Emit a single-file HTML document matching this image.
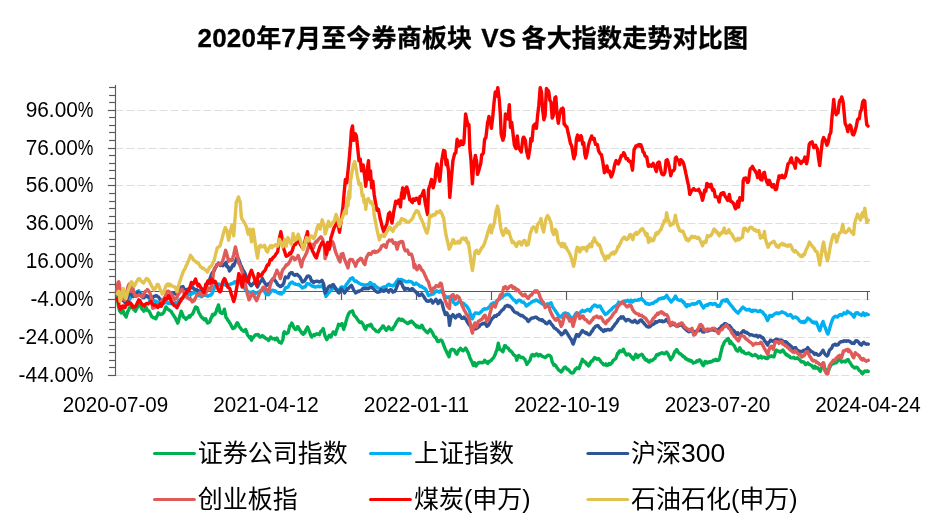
<!DOCTYPE html>
<html lang="zh-CN"><head><meta charset="utf-8"><title>2020年7月至今券商板块 VS 各大指数走势对比图</title>
<style>html,body{margin:0;padding:0;background:#fff}body{width:945px;height:531px;overflow:hidden}svg{display:block;will-change:transform}text{font-family:"Liberation Sans","Noto Sans CJK SC",sans-serif;fill:#000}.t{font-weight:bold;font-size:25px;stroke:#000;stroke-width:.3px}.t .l{font-size:26px}.ax{font-size:21.3px}.lg{font-size:25px}.lg .l{font-size:26.5px}.ln{fill:none;stroke-linejoin:round;stroke-linecap:round;stroke-width:3.4}</style></head><body>
<svg width="945" height="531" viewBox="0 0 945 531">
<rect width="945" height="531" fill="#fff"/>
<g stroke="#dedede" stroke-width="1" stroke-dasharray="8 3" fill="none">
<line x1="115.4" y1="110.5" x2="870.0" y2="110.5"/>
<line x1="115.4" y1="148.5" x2="870.0" y2="148.5"/>
<line x1="115.4" y1="185.5" x2="870.0" y2="185.5"/>
<line x1="115.4" y1="223.5" x2="870.0" y2="223.5"/>
<line x1="115.4" y1="261.5" x2="870.0" y2="261.5"/>
<line x1="115.4" y1="299.5" x2="870.0" y2="299.5"/>
<line x1="115.4" y1="337.5" x2="870.0" y2="337.5"/>
<line x1="115.4" y1="375.5" x2="870.0" y2="375.5"/>
</g>
<g stroke="#595959" stroke-width="1.15" fill="none">
<line x1="115.5" y1="85.1" x2="115.5" y2="376.1"/>
<line x1="107.9" y1="375.5" x2="115.5" y2="375.5"/>
<line x1="109.1" y1="367.5" x2="115.5" y2="367.5"/>
<line x1="109.1" y1="360.5" x2="115.5" y2="360.5"/>
<line x1="109.1" y1="352.5" x2="115.5" y2="352.5"/>
<line x1="109.1" y1="345.5" x2="115.5" y2="345.5"/>
<line x1="107.9" y1="337.5" x2="115.5" y2="337.5"/>
<line x1="109.1" y1="329.5" x2="115.5" y2="329.5"/>
<line x1="109.1" y1="322.5" x2="115.5" y2="322.5"/>
<line x1="109.1" y1="314.5" x2="115.5" y2="314.5"/>
<line x1="109.1" y1="307.5" x2="115.5" y2="307.5"/>
<line x1="107.9" y1="299.5" x2="115.5" y2="299.5"/>
<line x1="109.1" y1="292.5" x2="115.5" y2="292.5"/>
<line x1="109.1" y1="284.5" x2="115.5" y2="284.5"/>
<line x1="109.1" y1="276.5" x2="115.5" y2="276.5"/>
<line x1="109.1" y1="269.5" x2="115.5" y2="269.5"/>
<line x1="107.9" y1="261.5" x2="115.5" y2="261.5"/>
<line x1="109.1" y1="254.5" x2="115.5" y2="254.5"/>
<line x1="109.1" y1="246.5" x2="115.5" y2="246.5"/>
<line x1="109.1" y1="239.5" x2="115.5" y2="239.5"/>
<line x1="109.1" y1="231.5" x2="115.5" y2="231.5"/>
<line x1="107.9" y1="223.5" x2="115.5" y2="223.5"/>
<line x1="109.1" y1="216.5" x2="115.5" y2="216.5"/>
<line x1="109.1" y1="208.5" x2="115.5" y2="208.5"/>
<line x1="109.1" y1="201.5" x2="115.5" y2="201.5"/>
<line x1="109.1" y1="193.5" x2="115.5" y2="193.5"/>
<line x1="107.9" y1="185.5" x2="115.5" y2="185.5"/>
<line x1="109.1" y1="178.5" x2="115.5" y2="178.5"/>
<line x1="109.1" y1="170.5" x2="115.5" y2="170.5"/>
<line x1="109.1" y1="163.5" x2="115.5" y2="163.5"/>
<line x1="109.1" y1="155.5" x2="115.5" y2="155.5"/>
<line x1="107.9" y1="148.5" x2="115.5" y2="148.5"/>
<line x1="109.1" y1="140.5" x2="115.5" y2="140.5"/>
<line x1="109.1" y1="132.5" x2="115.5" y2="132.5"/>
<line x1="109.1" y1="125.5" x2="115.5" y2="125.5"/>
<line x1="109.1" y1="117.5" x2="115.5" y2="117.5"/>
<line x1="107.9" y1="110.5" x2="115.5" y2="110.5"/>
<line x1="109.1" y1="102.5" x2="115.5" y2="102.5"/>
<line x1="109.1" y1="95.5" x2="115.5" y2="95.5"/>
<line x1="109.1" y1="87.5" x2="115.5" y2="87.5"/>
<line x1="115.5" y1="291.5" x2="870.0" y2="291.5"/>
<line x1="115.5" y1="291.5" x2="115.5" y2="299.9"/>
<line x1="190.5" y1="291.5" x2="190.5" y2="299.9"/>
<line x1="265.5" y1="291.5" x2="265.5" y2="299.9"/>
<line x1="341.5" y1="291.5" x2="341.5" y2="299.9"/>
<line x1="416.5" y1="291.5" x2="416.5" y2="299.9"/>
<line x1="491.5" y1="291.5" x2="491.5" y2="299.9"/>
<line x1="566.5" y1="291.5" x2="566.5" y2="299.9"/>
<line x1="641.5" y1="291.5" x2="641.5" y2="299.9"/>
<line x1="717.5" y1="291.5" x2="717.5" y2="299.9"/>
<line x1="792.5" y1="291.5" x2="792.5" y2="299.9"/>
<line x1="867.5" y1="291.5" x2="867.5" y2="299.9"/>
</g>
<polyline class="ln" stroke="#00B050" points="117.1,297.6 117.92,302.78 118.4,306.1 119.8,311.2 120.38,311.81 121.2,312.9 122.02,310.89 122.7,309.5 123.66,312.7 124.4,314.6 125.3,315.31 126.1,317.1 126.94,314.32 127.8,311.2 128.58,310.15 129.5,307.8 130.22,307.0 131.2,306.1 131.86,307.19 132.68,307.85 133.7,309.5 134.32,309.98 135.4,311.2 135.96,309.99 136.78,308.44 137.6,306.96 138.0,306.1 138.42,306.04 139.24,305.48 139.7,304.4 140.88,306.27 141.7,308.55 142.2,309.5 143.34,310.37 143.9,311.2 144.98,309.53 145.8,308.23 146.4,307.8 147.44,310.54 148.26,310.63 149.0,311.2 149.9,312.7 150.72,314.51 151.5,316.3 152.36,316.89 153.18,317.61 154.1,318.0 154.82,317.79 155.8,318.8 156.46,317.02 157.28,315.82 158.3,312.9 158.92,313.69 159.74,313.99 160.8,314.6 161.38,314.06 162.2,314.17 163.4,312.9 163.84,312.25 164.66,310.19 165.48,308.05 165.9,306.9 167.12,308.39 167.94,309.24 168.5,309.5 169.58,310.33 170.4,311.12 171.0,311.2 172.04,313.07 172.86,314.34 173.6,315.4 174.5,316.76 175.32,317.93 176.1,319.7 176.96,321.55 177.8,323.1 178.6,320.63 179.5,317.1 180.24,314.83 181.2,311.2 181.88,313.03 182.9,315.4 183.52,317.09 184.34,317.48 185.4,318.8 185.98,319.38 186.8,318.3 188.0,317.1 188.44,317.46 189.26,315.84 190.08,316.86 190.5,315.4 191.72,314.66 192.54,313.93 193.1,312.9 194.18,310.08 195.0,308.24 195.6,306.9 196.64,308.13 197.3,307.8 198.28,310.84 199.0,312.9 199.92,314.33 200.74,316.08 201.5,317.1 202.38,318.03 203.2,317.98 204.1,319.7 204.84,319.2 205.8,318.8 206.48,321.02 207.5,323.1 208.12,322.6 208.94,322.44 210.0,321.4 210.58,319.15 211.4,317.62 212.5,314.6 213.04,315.69 213.86,314.11 214.68,313.9 215.1,314.2 215.5,313.04 216.32,311.29 216.8,309.2 217.96,306.42 218.5,304.9 219.6,309.91 220.2,312.5 221.24,312.92 222.2,313.4 222.88,312.3 223.7,311.09 224.4,309.2 225.34,313.97 226.1,317.6 226.98,318.48 227.8,320.2 228.62,320.97 229.44,322.57 230.3,323.6 231.08,325.35 231.9,326.78 232.9,328.6 233.54,328.33 234.6,327.8 235.18,326.95 236.0,324.88 237.1,322.7 237.64,322.96 238.8,325.3 239.28,326.76 240.1,327.54 240.92,328.58 241.4,329.5 242.56,330.16 243.38,330.92 243.9,331.2 245.02,330.51 245.6,329.5 246.66,331.98 247.3,334.6 248.3,336.12 249.12,336.46 249.8,338.0 250.76,336.73 251.58,340.23 252.4,338.0 253.22,337.69 254.04,336.38 254.9,335.4 255.68,334.59 256.6,334.6 257.32,335.1 258.14,334.46 259.2,336.3 259.78,337.03 260.8,337.1 261.42,336.52 262.24,335.57 263.4,336.3 263.88,337.23 264.7,337.27 265.9,338.8 266.34,338.57 267.16,338.83 267.98,339.55 268.5,340.5 269.62,339.14 270.7,337.1 271.26,337.88 272.08,338.3 272.7,338.8 273.72,338.9 274.54,338.54 275.3,339.7 276.18,338.78 276.9,338.0 277.82,340.27 278.6,341.4 279.46,342.38 280.28,342.24 281.2,343.1 281.92,341.53 282.9,339.7 283.7,332.9 284.38,331.78 285.2,332.96 286.3,333.7 286.84,333.16 288.0,332.9 288.48,331.1 289.3,327.87 289.7,326.1 290.12,326.36 290.94,324.68 291.76,323.06 292.2,323.6 293.4,326.37 293.9,327.8 295.04,329.26 295.6,329.5 296.68,328.9 297.5,326.72 298.1,326.9 299.14,328.77 299.8,330.3 300.78,331.28 301.6,332.89 302.4,333.7 303.24,334.27 304.06,332.37 304.9,332.9 305.7,330.22 306.52,328.88 307.5,326.9 308.16,328.37 309.2,331.2 309.8,332.69 310.62,334.89 311.7,337.1 312.26,336.08 313.08,335.22 314.2,334.6 314.72,335.36 315.54,334.34 316.36,334.05 316.8,333.7 318.0,334.3 318.82,334.35 319.3,334.6 320.46,331.81 321.0,331.2 322.1,330.49 323.2,328.6 323.74,330.84 324.56,334.02 325.1,336.2 326.2,338.52 326.8,339.6 327.84,337.82 328.66,336.49 329.3,335.3 330.3,335.84 331.0,337.0 331.94,334.37 332.76,333.06 333.2,331.9 334.4,332.98 335.3,334.5 336.04,331.91 336.9,329.4 337.68,327.35 338.6,324.3 339.32,324.67 340.3,325.2 340.96,324.39 342.0,323.5 342.6,325.55 343.7,329.4 344.24,327.35 345.4,324.3 345.88,321.97 346.7,319.22 347.1,317.5 347.52,316.62 348.34,314.41 348.8,313.3 349.98,312.01 350.5,311.6 351.62,311.76 352.5,310.8 353.26,312.56 353.9,315.0 354.9,316.21 355.6,316.7 356.54,317.76 357.3,319.2 358.18,320.34 359.0,321.33 359.8,322.6 360.64,322.56 361.46,321.95 362.4,323.5 363.1,324.32 364.1,326.9 364.74,328.46 365.56,329.42 366.6,326.9 367.2,325.69 368.02,325.51 369.2,325.2 369.66,325.85 370.8,324.3 371.3,324.97 372.12,326.79 372.94,328.13 373.4,328.6 374.58,329.34 375.4,330.35 375.9,331.1 377.04,331.51 377.86,331.51 378.5,331.9 379.5,330.35 380.32,329.05 381.0,328.6 381.96,327.41 382.7,326.0 383.6,326.24 384.4,327.7 385.24,329.06 386.4,330.3 386.88,329.86 387.7,328.23 388.6,326.9 389.34,327.63 390.3,328.6 390.98,329.66 392.0,329.4 392.62,329.24 393.44,327.38 394.6,326.0 395.08,325.18 395.9,323.08 396.3,322.6 396.72,321.64 397.54,320.76 398.3,319.2 399.18,318.75 400.0,319.96 400.5,320.1 401.64,320.5 402.2,319.2 403.28,320.09 404.1,320.97 404.7,321.8 405.74,322.13 406.56,322.81 407.3,323.5 408.2,323.48 409.02,322.38 409.8,321.8 410.66,322.27 411.48,321.14 412.4,321.8 413.12,322.64 413.94,323.71 414.9,325.2 415.58,325.04 416.4,326.93 417.5,326.0 418.04,326.29 418.86,327.5 420.0,327.7 420.5,327.4 421.7,325.2 422.14,325.53 422.96,327.26 423.4,328.6 424.6,330.0 425.1,330.3 426.24,331.86 427.06,332.27 427.6,332.8 428.7,331.28 429.52,330.37 430.2,329.4 431.16,330.76 431.9,331.9 432.8,333.32 433.6,335.3 434.44,336.77 435.26,337.46 435.9,337.3 436.9,340.14 437.6,341.5 438.54,341.51 439.3,340.7 440.18,340.36 441.0,340.05 441.9,340.7 442.64,342.4 443.6,344.9 444.28,346.72 445.3,349.2 445.92,350.36 446.9,352.5 447.56,354.02 448.38,355.21 449.0,356.8 450.3,350.8 450.84,350.17 452.0,349.2 452.48,349.57 453.3,349.75 454.12,349.94 454.6,350.8 455.76,353.08 456.8,354.2 457.4,353.46 458.22,351.26 458.8,350.0 459.86,349.71 460.5,348.3 461.5,349.54 462.32,350.38 463.1,350.8 463.96,349.9 464.7,349.2 465.6,348.15 466.4,349.2 467.24,351.11 468.1,352.5 468.88,354.62 469.8,357.6 470.52,358.98 471.5,361.0 472.16,362.15 473.2,365.3 473.8,363.45 474.4,362.7 475.8,366.1 476.26,365.56 477.08,364.35 477.5,363.6 478.72,362.51 479.54,362.43 480.0,362.7 481.18,362.36 482.0,362.8 482.5,362.7 483.64,362.14 484.6,360.2 485.28,360.88 486.1,361.79 486.8,362.7 487.74,363.4 488.56,361.4 489.3,361.9 490.2,360.92 491.4,360.2 491.84,359.33 492.66,358.56 493.6,357.6 494.3,356.14 495.3,354.2 495.94,351.93 496.9,350.0 497.58,346.88 498.3,343.2 499.5,349.2 500.04,349.41 501.2,350.0 501.68,350.47 502.9,351.7 503.32,350.58 504.14,347.23 504.6,345.8 505.78,345.98 506.3,347.5 507.42,347.65 508.24,348.13 508.8,349.2 509.88,350.92 510.5,350.8 511.52,351.8 512.2,352.5 513.16,354.2 513.9,355.1 514.8,355.49 515.6,355.9 516.8,360.2 517.26,358.47 518.1,355.9 518.9,355.42 519.72,356.71 520.7,357.6 521.36,357.29 522.18,357.22 523.2,357.6 523.82,358.55 524.9,359.3 525.46,360.85 526.28,362.59 526.9,364.4 527.92,362.85 528.6,361.9 529.56,360.84 530.0,360.2 531.2,356.36 531.7,355.1 532.84,354.59 533.66,355.34 534.2,355.9 535.3,354.98 535.9,354.2 536.94,353.95 537.76,355.25 538.5,355.9 539.4,354.82 540.22,354.43 541.0,355.1 541.86,356.13 542.68,356.68 543.6,356.8 544.32,357.08 545.1,357.6 545.96,356.9 547.1,355.9 547.6,355.43 548.42,355.11 549.3,355.1 550.06,355.89 551.0,356.8 551.7,359.86 552.2,361.9 553.34,364.08 553.9,365.3 554.98,364.82 556.1,366.1 556.62,367.34 557.8,368.6 558.26,369.64 559.08,370.32 559.5,370.3 560.72,371.58 561.2,372.0 562.36,370.66 562.9,369.5 564.0,367.73 564.82,367.21 565.4,366.9 566.46,368.38 567.5,369.5 568.1,369.33 568.92,370.24 569.7,371.2 570.56,372.23 571.4,372.9 572.2,372.97 573.1,372.9 573.84,372.09 574.7,370.3 575.48,368.91 576.3,368.94 576.9,367.8 577.94,368.06 579.0,368.6 579.58,367.04 580.7,363.6 581.22,362.76 582.4,359.3 582.86,360.03 583.68,361.32 584.4,361.9 585.32,361.92 586.14,363.42 586.6,364.4 587.78,364.03 588.6,365.99 589.2,365.3 590.24,362.98 590.8,361.9 591.88,360.81 592.5,361.0 593.52,359.26 594.6,357.6 595.16,357.81 595.98,358.55 596.8,359.3 597.62,358.96 598.5,358.5 599.26,359.53 600.08,360.27 601.0,361.9 601.72,362.75 602.54,363.2 603.1,364.4 604.18,364.85 605.3,364.4 605.82,363.87 606.64,365.44 607.8,364.4 608.28,365.03 609.1,363.56 610.3,364.4 610.74,364.13 611.56,362.95 612.0,362.7 613.2,360.31 613.7,360.2 614.84,359.13 615.9,358.5 616.48,356.7 617.6,353.4 618.12,353.87 618.94,351.63 619.7,350.8 620.58,351.36 621.4,351.7 622.22,351.11 623.4,349.2 623.86,350.27 624.7,352.5 625.5,353.39 626.32,355.03 626.8,355.1 627.96,354.02 629.0,354.2 629.6,354.35 630.42,355.91 631.5,356.8 632.06,357.91 632.88,358.55 633.6,359.3 634.52,357.14 635.34,355.33 635.8,354.2 636.98,356.17 637.5,357.6 638.62,356.12 639.44,355.23 640.0,355.1 641.08,354.74 641.7,354.2 642.72,355.21 643.7,357.6 644.36,357.72 645.18,359.65 645.9,360.2 646.82,359.61 647.64,360.52 648.5,361.9 649.28,362.06 650.5,360.2 650.92,360.85 651.74,360.54 652.7,360.2 653.38,359.3 654.2,358.76 654.9,358.5 655.84,356.5 656.8,354.6 657.48,354.48 658.3,354.98 659.3,353.7 659.94,353.99 660.76,353.25 661.9,352.9 662.4,352.7 663.22,353.56 664.4,353.7 664.86,353.85 665.68,352.69 666.6,352.0 667.32,353.14 668.14,354.13 668.6,355.4 669.78,357.59 670.7,359.7 671.42,358.46 672.24,357.39 672.9,356.3 673.88,353.83 675.1,351.2 675.52,351.79 676.34,349.87 676.8,349.5 677.98,351.85 678.8,352.9 679.62,353.76 680.44,353.65 681.4,354.6 682.08,355.41 682.9,356.47 683.6,356.3 684.54,357.06 685.6,358.8 686.18,358.4 687.0,359.58 688.1,359.7 688.64,360.56 689.46,359.98 690.28,361.08 690.7,360.5 691.92,361.26 692.74,362.31 693.2,363.1 694.38,362.73 695.2,362.49 695.8,362.2 696.84,360.71 697.8,361.4 698.48,360.74 699.5,359.7 700.12,360.62 700.94,361.08 701.7,363.1 702.58,364.75 703.4,365.6 704.22,364.08 705.1,361.4 705.86,361.69 706.68,362.69 707.3,363.1 708.32,361.95 709.3,362.2 709.96,361.43 710.78,361.93 711.9,361.4 712.42,361.32 713.24,360.18 714.4,360.5 714.88,360.22 715.7,359.26 716.9,360.5 717.34,360.09 718.16,360.41 719.2,359.7 719.8,357.31 720.8,352.9 721.44,350.49 722.5,346.1 723.08,345.25 723.9,343.26 724.6,341.9 725.54,340.75 726.6,340.2 727.18,339.17 728.3,338.5 728.82,340.07 730.0,343.6 730.46,341.27 731.28,342.58 732.2,343.6 732.92,344.46 733.9,345.3 734.56,346.46 735.6,348.6 736.2,349.98 737.02,350.62 737.8,351.2 738.66,350.24 739.8,347.8 740.3,348.64 741.5,351.2 741.94,351.86 742.76,351.12 743.58,351.69 744.1,352.9 745.22,353.32 746.04,353.72 746.6,353.7 747.68,353.49 748.6,352.9 749.32,353.41 750.14,353.87 750.8,354.6 751.78,355.44 752.6,355.86 753.1,355.4 754.24,354.98 755.1,354.6 755.88,355.67 756.7,355.56 757.1,356.3 757.52,356.22 758.34,357.97 759.3,357.1 759.98,357.3 760.8,356.12 761.9,358.0 762.44,357.1 763.26,357.35 764.4,357.1 765.1,357.8 765.72,358.46 766.54,357.81 767.6,358.6 768.18,357.66 769.0,356.72 769.8,356.1 770.64,356.43 771.46,355.74 771.9,356.1 773.1,356.81 773.9,356.9 774.74,354.22 775.6,351.0 776.38,350.0 777.2,350.94 777.8,351.0 778.84,351.31 780.0,351.9 780.48,352.28 781.3,350.97 782.0,351.0 782.94,349.97 783.76,351.59 784.6,352.7 785.4,353.97 786.22,354.86 786.8,354.4 787.86,355.66 788.8,356.1 789.5,356.13 790.32,357.56 790.8,357.8 791.96,357.84 793.1,357.8 793.6,357.22 794.42,358.14 795.3,358.6 796.06,358.29 796.88,358.29 797.3,357.8 798.52,358.89 799.3,359.5 800.16,360.52 800.98,361.32 801.5,362.0 802.62,361.6 803.7,362.0 804.26,362.38 805.08,364.06 805.8,364.6 806.72,363.93 807.8,362.9 808.36,363.85 809.18,364.32 810.0,364.6 810.82,365.19 811.64,365.36 812.2,366.3 813.28,367.74 814.2,368.0 814.92,366.31 815.74,367.96 816.3,368.0 817.38,367.73 818.5,368.8 819.02,369.7 820.2,371.4 820.66,370.01 821.48,367.79 821.9,367.1 823.12,364.95 823.6,362.9 824.7,368.0 825.58,369.59 826.4,371.4 827.22,370.81 828.1,371.4 828.86,369.64 829.8,367.1 830.5,366.15 831.2,364.6 832.14,364.13 833.2,362.9 833.78,363.44 834.6,362.98 835.4,362.9 836.24,362.74 837.06,361.54 837.6,361.2 838.7,359.83 839.7,359.5 840.34,360.12 841.16,361.39 841.7,362.0 842.8,361.25 843.9,361.2 844.44,361.17 845.26,361.88 846.1,361.2 846.9,360.1 848.1,359.5 848.54,360.4 849.36,361.7 850.2,362.9 851.0,364.08 851.82,365.47 852.4,366.3 853.46,367.01 854.6,368.0 855.1,367.45 855.92,367.42 856.6,367.1 857.56,367.83 858.6,369.7 859.2,370.26 860.3,371.4 860.84,371.46 861.8,373.1 862.48,373.92 863.3,372.65 863.8,372.2 864.94,370.92 865.7,371.4 866.58,371.59 867.4,370.86 868.3,371.4"/>
<polyline class="ln" stroke="#00B0F0" points="116.8,292.6 117.62,294.13 118.3,294.8 119.26,296.75 119.8,297.5 121.2,298.5 121.72,299.08 122.8,299.8 123.36,300.42 124.18,301.38 124.7,301.2 125.82,300.54 126.5,300.3 127.46,300.27 128.28,300.21 129.2,299.4 129.92,298.71 131.0,296.6 131.56,296.12 132.38,294.99 133.2,295.21 133.7,294.8 134.84,293.53 136.0,292.1 136.48,292.06 137.3,291.65 137.8,291.2 138.7,290.8 139.6,292.1 140.58,293.58 141.4,293.9 142.22,294.83 143.04,295.96 143.6,295.7 144.68,296.79 145.5,296.84 145.9,295.7 146.32,295.64 147.14,295.98 148.2,296.6 149.1,298.5 149.6,299.77 150.42,299.53 150.9,300.3 152.06,299.94 152.88,301.05 153.6,300.7 154.52,300.86 155.34,301.95 156.3,301.2 156.98,302.06 157.8,302.02 159.0,302.1 159.44,302.05 160.26,302.41 161.08,303.02 161.7,303.0 162.72,304.22 163.54,303.27 164.4,303.0 165.18,302.59 166.0,302.49 167.2,303.0 167.64,302.37 168.46,303.39 169.28,303.4 169.9,303.4 170.92,303.56 172.1,303.4 172.56,303.76 173.38,303.66 174.4,303.0 175.3,302.7 175.84,302.68 176.9,303.6 177.48,302.58 178.3,301.59 179.5,300.2 179.94,299.75 180.76,299.11 181.58,298.4 182.4,298.37 182.9,297.6 184.04,296.73 184.86,296.76 185.68,296.02 186.5,295.58 187.1,295.9 188.14,294.77 188.96,293.65 189.78,294.5 190.6,294.83 191.4,294.2 192.24,293.26 193.06,293.41 193.88,292.18 194.7,292.5 195.52,292.56 196.34,293.52 197.16,293.63 198.1,295.1 198.8,295.42 199.62,295.97 200.44,296.18 201.5,296.8 202.08,296.2 202.9,295.49 203.72,295.51 204.9,295.1 205.36,294.94 206.18,295.23 207.0,295.88 207.82,296.21 208.3,295.9 209.46,295.23 210.28,295.44 211.1,294.85 211.7,294.2 212.74,292.06 213.4,290.8 214.38,287.83 215.1,285.4 216.02,284.62 216.8,283.7 217.66,283.87 218.48,284.07 219.3,284.14 220.2,285.4 220.94,285.1 221.76,284.75 222.58,284.88 223.6,283.7 224.22,283.52 225.04,284.84 225.86,285.38 226.9,285.4 227.5,285.67 228.32,285.0 229.14,284.56 229.96,284.22 230.78,284.21 231.2,283.7 231.6,283.58 232.42,283.35 233.24,283.5 234.06,282.28 234.88,281.83 235.4,282.0 236.52,281.37 237.34,280.95 238.16,281.4 238.8,280.3 239.8,281.77 240.62,283.31 241.44,285.01 242.2,285.4 243.08,286.25 243.9,287.43 244.72,288.27 245.54,290.03 246.4,290.5 247.18,290.99 248.0,291.72 249.0,292.2 249.64,292.1 250.46,292.67 251.5,293.1 252.1,292.02 253.2,291.4 253.74,292.23 254.56,292.7 255.38,293.64 255.8,293.1 257.02,292.86 257.84,292.37 258.3,292.2 259.48,291.89 260.3,290.57 260.8,290.5 261.94,289.88 262.76,289.49 263.4,289.7 264.4,291.1 265.22,292.71 265.9,293.9 266.86,294.56 267.68,294.49 268.5,294.7 269.32,293.65 270.14,292.73 271.0,291.4 271.78,290.41 272.6,290.21 273.6,290.5 274.24,291.21 275.06,290.81 276.1,291.4 276.7,292.1 277.52,292.93 278.6,293.1 279.16,292.95 279.98,293.76 281.2,293.1 281.62,293.92 282.44,292.48 283.26,292.49 283.7,292.2 284.9,289.21 285.4,288.0 286.54,287.32 287.36,287.23 288.0,287.1 289.0,285.38 289.7,283.7 290.64,283.15 291.46,282.26 292.2,282.0 293.1,283.01 293.92,283.58 294.7,283.7 295.56,284.39 296.38,284.39 297.3,284.6 298.02,284.8 298.84,284.36 299.8,285.4 300.48,285.98 301.3,286.87 302.4,288.0 302.94,287.43 303.76,287.02 304.9,287.1 305.4,286.58 306.22,285.08 307.04,283.67 307.5,283.7 308.68,283.83 309.5,283.88 310.0,284.6 311.14,285.33 311.96,285.96 312.5,286.3 313.6,286.33 314.42,286.6 315.1,287.1 316.06,286.83 316.88,286.71 317.6,286.3 318.52,286.11 319.34,286.82 320.2,286.3 320.98,286.62 321.8,285.79 322.7,285.4 323.44,287.39 324.4,290.5 325.08,292.85 325.9,296.4 326.72,295.27 327.54,294.38 328.5,293.0 329.18,292.45 330.0,291.18 331.0,290.4 331.64,289.54 332.46,288.98 333.6,287.0 334.1,287.95 334.92,287.68 336.1,288.7 336.56,289.0 337.38,289.32 338.2,290.24 338.6,290.4 339.02,290.07 339.84,289.08 340.66,287.86 341.2,287.0 342.3,286.96 343.12,287.51 343.7,287.9 344.76,287.06 345.58,285.88 346.3,284.5 347.22,283.5 348.04,282.44 348.8,281.1 349.68,280.16 350.5,278.6 351.32,278.47 352.5,277.7 352.96,278.34 353.78,279.79 354.7,281.1 355.42,281.35 356.24,280.87 357.3,281.9 357.88,282.45 358.7,282.88 359.8,283.6 360.34,283.78 361.16,284.37 361.98,284.52 362.4,284.5 363.62,284.81 364.44,284.85 364.9,285.3 366.08,284.83 366.9,284.73 367.5,284.5 368.54,284.61 369.36,283.79 370.18,282.57 370.8,282.8 371.82,283.99 372.64,284.41 373.4,285.3 374.28,284.64 375.1,285.85 375.9,286.2 376.74,286.93 377.56,287.83 378.5,287.9 379.2,288.57 380.02,288.63 381.0,288.7 381.66,288.16 382.48,287.4 383.6,287.0 384.12,287.59 384.94,286.67 386.1,287.0 386.58,286.35 387.4,285.18 388.6,284.5 389.04,284.18 389.86,285.25 390.68,285.33 391.2,285.3 392.32,285.71 393.14,286.0 393.7,285.3 394.78,284.11 395.6,282.95 396.3,281.9 397.24,280.72 398.3,279.4 398.88,280.3 399.7,279.64 400.52,279.69 401.4,279.4 402.16,279.78 402.98,280.53 403.9,281.1 404.62,280.92 405.44,281.46 406.4,281.9 407.08,281.84 407.9,281.78 409.0,281.1 409.54,281.67 410.36,281.58 411.5,281.9 412.0,282.21 412.82,283.3 413.64,284.34 414.1,284.5 415.28,284.13 416.1,283.14 416.6,283.6 417.74,284.27 418.56,284.71 419.2,285.3 420.2,286.49 421.02,286.63 421.7,286.2 422.66,287.49 423.7,287.9 424.3,288.36 425.12,288.8 425.9,289.6 426.76,291.69 427.58,293.48 428.5,295.5 429.22,295.2 430.04,294.82 431.0,294.7 431.68,294.35 432.5,294.09 433.6,293.8 434.14,293.03 434.96,292.37 435.78,291.24 436.8,290.8 437.42,291.32 438.5,291.7 439.06,292.12 439.88,291.05 441.0,290.8 441.52,291.65 442.34,292.45 443.16,293.53 443.6,294.2 444.8,295.53 445.62,296.4 446.44,297.59 446.9,297.6 448.08,296.87 448.9,297.01 449.72,297.84 450.54,297.61 451.2,297.6 452.18,299.08 453.0,301.19 453.7,302.7 454.64,303.38 455.4,304.4 456.28,303.9 457.1,303.6 457.92,302.63 458.74,301.82 459.7,301.0 460.38,301.72 461.4,302.7 462.02,303.19 462.84,303.07 463.9,303.6 464.48,304.23 465.6,305.3 466.12,305.55 467.3,306.9 467.76,307.83 468.58,309.26 469.0,309.5 470.22,313.27 470.7,314.6 471.86,317.62 472.4,318.8 473.5,316.36 474.1,314.6 475.14,313.18 475.8,312.9 476.78,313.07 477.6,313.12 478.3,313.7 479.24,313.43 480.06,312.75 480.8,312.0 481.7,311.38 482.52,310.12 483.4,309.5 484.16,308.87 485.1,308.6 485.8,309.13 486.62,308.83 487.6,308.6 488.26,307.79 489.3,306.9 489.9,306.39 491.0,304.4 491.54,304.78 492.36,303.36 493.18,302.85 493.6,303.6 494.82,302.97 495.64,302.84 496.1,301.9 497.28,300.41 497.8,300.2 498.92,299.13 499.5,299.3 500.56,298.16 501.2,297.6 502.2,297.36 503.02,296.26 503.7,295.9 504.66,295.23 505.48,295.01 506.3,294.2 507.12,294.2 507.94,294.64 508.8,294.2 509.58,295.17 510.4,296.18 511.0,296.8 512.04,298.01 513.1,299.3 513.68,300.02 514.7,300.2 515.32,300.98 516.4,302.7 516.96,301.73 517.78,301.26 518.6,300.13 519.0,300.2 519.42,300.18 520.24,300.33 521.06,301.14 521.5,301.9 522.7,302.26 523.52,302.02 524.1,302.7 525.16,304.08 525.98,305.64 526.6,306.1 527.62,304.66 528.44,304.77 529.2,303.6 530.08,303.27 530.9,302.94 531.7,301.9 532.54,301.52 533.36,301.05 534.2,301.0 535.0,300.8 535.82,299.99 536.8,300.2 537.46,300.89 538.28,301.18 539.3,301.9 539.92,302.18 540.74,302.79 541.9,303.6 542.38,303.85 543.2,304.57 544.4,304.4 544.84,305.02 545.66,304.94 546.8,304.4 547.3,303.83 548.12,304.29 549.3,303.6 549.76,303.66 550.58,302.92 551.0,302.7 552.22,305.95 552.7,306.9 553.86,308.48 554.4,309.5 555.5,310.89 556.1,312.0 557.14,313.33 557.8,314.6 558.78,315.93 559.5,316.3 560.42,316.28 561.2,317.1 562.06,315.62 562.9,314.6 563.7,313.51 564.52,313.65 565.4,312.9 566.16,313.24 566.98,313.71 568.0,313.7 568.62,314.47 569.7,316.3 570.26,316.89 571.4,318.0 571.9,317.53 573.1,318.8 573.54,317.84 574.7,315.4 575.18,314.4 576.4,312.9 576.82,312.63 577.64,314.35 578.6,313.7 579.28,313.61 580.1,312.78 580.7,312.0 581.74,311.07 582.4,310.3 583.38,311.33 584.4,311.2 585.02,311.05 585.84,310.6 586.6,310.3 587.48,309.48 588.3,309.5 589.12,310.07 590.0,311.2 590.76,309.84 591.7,307.8 592.4,306.88 593.4,306.1 594.04,305.45 594.86,304.97 595.6,305.3 596.5,306.04 597.6,306.9 598.14,306.18 598.96,306.39 599.78,305.98 600.2,306.1 601.42,308.64 601.9,309.5 603.06,311.19 603.6,312.0 604.7,313.65 605.3,314.6 606.34,314.07 606.9,313.7 607.98,312.55 608.8,311.66 609.5,311.2 610.44,310.2 611.26,309.71 612.0,308.6 612.9,307.86 613.7,306.9 614.54,306.48 615.36,306.15 616.3,305.3 617.0,304.75 618.0,303.6 618.64,302.02 619.46,302.82 620.5,302.7 621.1,303.38 621.92,302.09 623.1,301.9 623.56,301.88 624.38,301.1 625.2,301.53 625.6,301.0 626.02,301.36 626.84,300.72 627.66,300.33 628.1,301.0 629.3,301.51 630.12,301.54 630.7,300.2 631.76,300.56 632.4,301.9 633.4,301.18 634.22,300.43 634.9,300.2 635.86,300.31 636.68,300.38 637.5,300.2 638.32,299.52 639.14,300.03 640.0,299.3 640.78,299.35 641.7,298.5 642.42,299.5 643.24,300.5 643.7,301.0 644.88,301.87 645.9,303.6 646.52,303.86 647.34,303.4 648.5,304.4 648.98,304.45 649.8,304.38 651.0,303.6 651.44,303.49 652.26,303.16 653.08,303.28 653.6,302.7 654.72,302.09 655.54,301.48 656.36,301.38 656.8,301.2 658.0,299.74 658.82,298.93 659.3,298.6 660.46,298.78 661.28,298.15 661.9,298.6 662.92,297.65 663.74,298.27 664.4,297.8 665.38,296.85 666.2,296.02 666.6,295.3 667.02,295.94 667.84,297.52 668.6,298.6 669.48,299.8 670.3,300.65 671.2,302.0 671.94,300.76 672.76,300.03 673.4,299.5 674.4,297.85 675.4,296.1 676.04,297.01 676.86,298.64 677.5,299.5 678.5,300.06 679.7,300.3 680.14,300.59 680.96,299.81 681.78,300.53 682.2,301.2 683.42,302.57 683.9,302.0 685.06,304.66 685.6,305.4 686.7,306.74 687.52,304.64 688.1,305.4 689.16,305.24 689.98,305.29 690.7,304.6 691.62,304.04 692.44,303.82 693.2,303.7 694.08,304.32 694.9,303.74 695.8,303.7 696.54,303.4 697.36,302.66 697.8,302.0 699.0,301.71 700.0,302.0 700.64,303.12 701.7,305.4 702.28,305.82 703.4,308.0 703.92,307.47 704.74,306.12 705.6,305.4 706.38,304.88 707.2,305.28 707.6,304.6 708.02,305.13 708.84,304.21 709.66,303.47 710.2,303.7 711.3,303.62 712.12,304.03 712.7,304.6 713.76,303.82 714.58,303.51 715.3,303.7 716.22,304.73 717.04,305.52 717.5,306.3 718.68,305.59 719.5,306.3 720.32,304.7 721.2,302.9 721.96,301.03 722.78,300.75 723.2,300.3 724.42,300.43 725.4,301.2 726.06,299.66 726.88,299.55 727.6,300.3 728.52,302.36 729.7,303.7 730.16,304.33 730.98,305.39 731.7,306.3 732.62,307.05 733.44,308.71 733.9,308.8 735.08,310.27 736.1,311.4 736.72,311.94 737.54,312.62 738.1,313.1 739.18,311.46 740.0,310.54 740.7,309.7 741.64,308.39 742.46,307.66 742.9,307.1 744.1,308.0 744.9,308.8 745.74,309.63 746.56,310.01 747.5,309.7 748.2,309.99 749.02,309.22 750.0,309.7 750.66,310.76 751.48,311.26 752.5,311.4 753.12,310.22 753.94,310.34 755.1,310.5 755.58,310.42 756.4,310.77 757.6,311.4 758.04,311.64 758.86,311.17 759.68,311.26 760.2,310.5 761.32,311.32 762.14,311.99 762.7,312.2 763.78,314.01 764.4,314.7 765.4,315.4 766.24,317.79 767.06,319.65 767.6,320.5 768.7,318.29 769.8,315.4 770.34,315.38 771.16,316.1 771.9,316.3 772.8,315.63 773.9,314.6 774.44,314.04 775.26,313.76 776.1,312.9 776.9,312.9 777.72,312.9 778.3,313.7 779.36,313.2 780.3,312.9 781.0,312.5 781.82,311.8 782.4,312.0 783.46,312.58 784.6,312.9 785.1,313.26 785.92,313.77 786.8,314.6 787.56,315.57 788.38,315.41 788.8,315.4 790.02,314.54 790.8,314.6 791.66,316.07 792.48,317.37 793.1,318.0 794.12,317.1 795.3,317.1 795.76,317.0 796.58,317.82 797.3,318.0 798.22,318.93 799.3,320.5 799.86,321.26 800.68,321.71 801.5,322.2 802.32,321.9 803.14,322.42 803.7,321.4 804.78,322.38 805.8,321.4 806.42,320.11 807.24,319.11 807.8,318.0 808.88,318.79 810.0,319.7 810.52,320.06 811.34,321.19 812.2,322.2 812.98,322.62 813.8,322.03 814.2,323.1 814.62,323.01 815.44,322.43 816.3,322.2 817.08,324.14 818.0,326.4 818.72,328.09 819.7,330.7 820.36,328.83 821.4,325.6 822.0,323.94 823.1,321.4 823.64,323.24 824.7,326.4 825.28,327.57 826.4,330.7 826.92,332.25 827.8,334.1 828.56,332.05 829.5,329.0 830.2,326.43 831.2,323.1 831.84,321.43 832.66,319.21 833.2,318.0 834.3,316.82 835.4,316.3 835.94,316.72 836.76,316.48 837.6,317.1 838.4,315.9 839.22,315.15 839.7,314.6 840.86,314.5 841.7,315.4 842.5,314.54 843.32,313.87 843.9,312.9 844.96,313.6 846.1,313.7 846.6,312.82 847.42,311.34 848.1,312.0 849.06,312.58 850.2,312.9 850.7,313.47 851.52,314.18 852.4,314.6 853.16,316.04 854.1,317.1 854.8,315.57 855.8,312.9 856.44,313.05 857.26,312.74 858.0,312.9 858.9,314.14 860.0,314.6 860.54,314.37 861.5,315.4 862.18,314.92 863.3,312.9 863.82,313.36 864.8,315.4 865.46,314.96 866.4,313.7 867.1,314.37 868.3,314.6"/>
<polyline class="ln" stroke="#2F5597" points="116.8,293.0 117.9,294.8 118.44,295.65 119.0,296.6 120.08,298.09 120.5,298.5 122.0,297.5 122.8,299.4 123.36,300.58 124.2,301.2 125.0,302.59 125.6,303.0 126.9,299.4 127.46,298.07 128.3,295.7 129.1,294.39 129.6,293.9 131.0,293.9 131.56,294.53 132.38,295.82 132.8,296.6 134.02,296.09 134.6,295.7 135.66,294.4 136.4,293.9 137.3,292.77 137.8,292.1 139.1,293.0 139.76,293.87 140.9,295.7 141.4,296.23 142.22,296.64 142.7,297.5 143.86,297.69 144.5,296.6 145.5,295.89 146.4,295.7 147.14,296.5 148.2,296.6 148.78,297.06 149.6,296.69 150.0,297.5 150.42,297.83 151.24,298.64 151.8,298.5 153.1,297.1 153.7,296.56 154.5,296.6 155.34,295.85 155.9,295.7 157.2,296.2 157.8,296.76 158.6,297.1 159.44,298.45 159.9,298.9 161.3,300.7 161.9,300.89 163.1,301.2 163.54,300.46 164.36,299.26 164.9,299.4 166.0,298.16 166.7,297.5 167.64,296.32 168.5,295.7 169.28,295.42 170.3,294.8 170.92,294.22 171.74,293.82 172.6,293.9 173.38,293.06 173.9,293.0 175.3,293.9 175.84,294.08 176.9,294.2 177.48,293.34 178.3,291.81 179.12,290.05 180.3,287.5 180.76,287.11 181.58,287.02 182.4,286.97 182.9,286.6 184.04,288.65 184.86,289.74 185.4,290.8 186.5,290.11 187.32,289.15 188.0,289.2 188.96,288.83 189.78,288.39 190.6,287.91 191.4,287.5 192.24,287.07 193.06,287.72 193.88,289.01 194.7,289.2 195.52,289.8 196.34,289.59 197.16,289.88 198.1,290.8 198.8,291.5 199.62,290.96 200.44,291.72 201.5,292.5 202.08,292.01 202.9,291.16 203.72,290.63 204.9,289.2 205.36,288.07 206.18,286.74 207.0,284.83 207.82,283.23 208.3,282.4 209.46,280.13 210.28,277.96 211.1,275.65 211.7,273.9 212.74,272.22 213.56,271.8 214.2,270.5 215.2,268.0 216.02,266.73 216.8,264.7 217.66,264.46 218.5,263.1 219.3,263.72 220.2,265.6 220.94,265.18 221.76,265.11 222.58,265.79 223.4,264.8 224.4,264.7 225.3,263.4 226.1,262.2 226.9,266.8 227.8,266.4 228.32,267.17 229.5,271.0 229.96,270.22 230.78,269.15 231.2,268.5 231.6,267.36 232.42,265.7 232.9,264.7 233.7,265.9 234.88,262.83 235.4,261.5 236.52,258.77 237.1,257.1 238.16,258.63 238.8,259.7 239.8,262.97 240.5,264.7 241.44,266.41 242.26,268.43 243.1,270.2 243.9,271.22 244.7,272.7 245.54,274.45 246.4,276.9 247.18,279.21 248.1,282.0 248.82,282.46 249.64,283.74 250.7,285.4 251.28,285.7 252.1,284.56 253.2,283.7 253.74,282.87 254.9,282.0 255.38,282.69 256.2,283.96 257.02,285.59 257.5,287.1 258.66,284.36 259.48,283.23 260.0,282.0 261.12,280.92 261.94,279.7 262.5,278.6 263.58,280.94 264.2,282.0 265.22,283.58 266.04,284.73 266.8,285.4 267.68,284.46 268.5,283.75 269.3,283.7 270.14,282.8 270.96,281.35 271.9,280.3 272.6,279.28 273.6,278.6 274.24,279.49 275.06,280.52 276.1,282.0 276.7,282.71 277.52,284.39 278.6,285.4 279.16,285.4 279.98,286.6 281.2,286.3 281.62,285.6 282.44,285.31 283.26,283.82 283.7,283.7 284.9,278.5 285.4,276.9 286.54,277.48 287.36,277.36 288.0,277.8 289.0,275.29 289.7,273.6 290.64,273.04 291.46,272.6 292.2,272.7 293.1,274.31 293.92,274.8 294.7,275.3 295.56,274.64 296.38,274.48 297.3,274.4 298.02,275.71 298.84,275.94 299.8,276.9 300.48,278.14 301.3,279.85 302.4,282.0 302.94,281.71 303.76,281.56 304.9,280.3 305.4,279.4 306.22,278.17 307.04,276.48 307.5,276.1 308.68,276.06 309.5,276.45 310.0,276.9 311.14,280.04 311.7,281.2 312.78,281.3 313.6,282.61 314.2,282.0 315.24,281.38 316.06,281.34 316.8,281.2 317.7,281.16 318.52,281.57 319.3,282.0 320.16,281.69 320.98,281.29 321.9,280.3 322.62,281.8 323.6,283.7 324.26,287.8 325.1,293.0 325.9,291.83 326.72,290.16 327.6,288.7 328.36,287.24 329.3,286.2 330.0,286.02 331.0,287.0 331.64,285.82 332.46,284.81 333.2,284.5 334.1,285.79 335.3,287.9 335.74,289.14 336.9,290.4 337.38,290.76 338.2,292.36 339.0,293.0 339.84,291.67 340.66,289.57 341.2,288.7 342.3,290.28 342.9,290.4 343.94,291.75 344.6,293.0 345.58,291.34 346.4,290.57 347.1,288.7 348.04,288.99 348.86,287.74 349.7,287.0 350.5,286.31 351.4,285.3 352.14,286.65 353.1,288.7 353.78,290.07 354.6,291.32 355.6,293.0 356.24,292.5 357.06,291.91 358.1,291.3 358.7,291.62 359.52,291.08 360.7,290.4 361.16,290.22 361.98,289.99 362.8,288.57 363.2,288.7 363.62,288.31 364.44,288.55 365.26,288.31 365.8,288.7 366.9,288.14 367.72,288.45 368.3,288.7 369.36,287.89 370.18,287.28 370.8,287.0 371.82,287.38 372.64,288.13 373.4,288.7 374.28,289.52 375.1,290.87 375.9,291.3 376.74,291.84 377.56,292.19 378.5,292.1 379.2,291.8 380.02,291.57 381.0,289.6 381.66,290.87 382.48,290.54 383.6,291.3 384.12,290.41 384.94,290.68 386.1,289.6 386.58,289.68 387.4,290.5 388.6,292.1 389.04,291.07 389.86,290.25 390.3,289.6 391.5,289.86 392.32,291.17 392.9,292.1 393.96,291.44 394.78,291.51 395.4,290.4 396.42,287.85 397.1,286.2 398.06,283.93 398.8,281.9 399.7,281.54 400.52,282.31 401.0,282.8 402.16,284.66 403.1,287.0 403.8,288.12 404.7,289.6 405.44,288.25 406.26,288.97 407.3,288.7 407.9,288.57 408.72,289.47 409.8,289.6 410.36,289.74 411.18,289.17 412.4,288.7 412.82,288.97 413.64,289.89 414.46,290.64 414.9,291.3 416.1,292.03 416.92,293.42 417.5,293.0 418.56,294.78 419.2,295.5 420.2,295.29 421.02,294.48 421.7,293.8 422.66,295.01 423.7,296.4 424.3,297.4 425.12,298.91 425.9,299.7 426.76,301.11 427.58,301.17 428.5,301.4 429.22,300.91 430.04,300.68 431.0,299.7 431.68,300.69 432.7,303.1 433.32,301.96 434.14,301.75 434.96,300.78 435.9,299.3 436.6,300.87 437.42,301.67 438.1,303.6 439.06,301.94 440.2,300.2 440.7,301.74 441.9,302.7 442.34,304.36 443.16,307.77 443.6,309.5 444.8,312.8 445.3,314.6 446.44,313.75 446.9,312.9 448.08,315.38 448.6,316.3 449.5,325.4 450.54,319.54 451.2,316.3 452.18,315.68 452.9,314.6 453.82,315.81 454.64,317.03 455.4,318.0 456.28,316.62 457.1,315.4 457.92,316.04 458.74,316.07 459.2,314.6 460.38,316.09 461.4,318.0 462.02,318.44 462.84,318.24 463.9,317.1 464.48,317.64 465.3,318.66 465.9,318.8 466.94,321.24 468.1,323.1 468.58,324.01 469.4,324.83 469.8,325.4 470.22,325.93 471.04,327.37 471.5,328.0 472.68,329.52 473.2,328.8 474.32,329.16 475.14,328.81 475.8,328.8 476.78,328.08 477.6,327.79 478.3,327.1 479.24,326.56 480.06,325.03 480.8,324.6 481.7,324.25 482.52,323.44 483.4,323.7 484.16,323.29 485.1,322.9 485.8,324.4 486.8,326.3 487.44,326.12 488.26,325.28 489.3,323.7 489.9,322.61 491.0,320.3 491.9,318.8 492.36,318.17 493.18,317.71 493.6,317.1 494.82,315.77 495.64,316.32 496.1,316.3 497.28,314.86 497.8,314.6 498.92,314.32 499.5,312.9 500.56,311.93 501.2,311.2 502.2,310.0 503.2,309.5 503.84,308.59 504.66,307.48 505.4,306.1 506.3,306.02 507.12,305.64 507.6,305.3 508.76,306.59 509.7,306.1 510.4,306.71 511.22,307.38 512.2,308.6 512.86,309.85 513.9,311.2 514.5,311.94 515.32,312.34 516.4,312.9 516.96,312.94 517.78,313.16 518.6,314.24 519.0,314.6 519.42,314.52 520.24,315.33 521.06,315.81 521.5,315.4 522.7,315.7 523.52,316.82 524.1,317.1 525.16,317.81 525.98,318.62 526.6,318.8 527.62,320.86 528.3,321.4 529.26,320.53 530.08,319.45 530.8,318.8 531.72,318.03 532.54,318.05 533.4,318.0 534.18,317.73 535.0,317.1 535.9,317.1 536.64,317.38 537.46,318.37 538.5,318.8 539.1,319.57 539.92,319.87 541.0,319.7 541.56,320.44 542.38,319.82 543.2,320.92 543.6,321.4 544.02,321.26 544.84,322.13 545.66,323.28 546.8,323.7 547.3,323.18 548.12,322.82 549.3,321.2 549.76,321.51 550.58,323.09 551.4,324.21 551.9,324.6 553.04,326.09 553.86,327.49 554.4,328.0 555.5,328.6 556.32,329.32 556.9,329.7 557.96,330.5 558.78,331.74 559.5,332.2 560.42,333.09 561.24,334.84 561.7,334.7 562.88,333.7 563.7,333.1 564.52,331.41 565.4,330.5 566.16,331.62 566.98,332.89 567.5,333.9 568.62,335.51 569.7,337.3 570.26,338.18 571.4,339.8 571.9,341.31 573.1,344.1 573.54,343.31 574.7,339.8 575.18,338.24 576.4,334.7 576.82,334.65 577.64,334.88 578.6,336.4 579.28,335.13 580.1,334.08 580.7,333.1 581.74,331.47 582.4,330.5 583.38,331.89 584.2,332.01 584.9,332.2 585.84,333.31 586.66,332.83 587.5,333.9 588.3,334.56 589.5,334.7 589.94,334.4 590.76,333.09 591.7,331.4 592.4,331.06 593.4,328.8 594.04,328.0 594.86,327.32 595.6,326.3 596.5,326.16 597.6,325.4 598.14,325.7 598.96,326.86 599.7,328.0 600.6,328.54 601.42,329.71 601.9,329.7 603.06,330.92 603.6,331.4 604.7,329.76 605.52,329.88 606.1,330.5 607.16,329.57 607.98,329.4 608.6,329.7 609.62,330.07 610.44,329.86 611.2,329.7 612.08,328.32 612.9,327.04 613.7,326.3 614.54,324.91 615.36,323.69 616.3,322.9 617.0,321.85 617.82,320.51 618.3,319.5 619.46,318.43 620.5,317.8 621.1,316.77 621.92,317.97 623.1,316.9 623.56,317.5 624.38,319.03 625.2,319.75 625.6,320.3 626.02,320.94 626.84,319.95 627.66,319.47 628.1,319.5 629.3,319.9 630.12,320.64 630.7,321.2 631.76,321.99 632.58,321.43 633.2,322.0 634.22,320.92 634.9,320.3 635.86,321.32 636.68,322.53 637.5,322.9 638.32,322.39 639.14,321.4 640.0,320.3 640.78,319.94 641.7,320.3 642.42,321.73 643.24,322.31 643.7,322.9 644.88,324.33 645.9,325.4 646.52,326.27 647.34,326.68 648.5,327.1 648.98,326.31 649.8,326.68 650.5,326.3 651.44,325.12 652.26,324.24 652.7,324.6 653.9,323.92 654.72,323.32 655.54,321.63 656.36,321.84 656.8,322.4 658.0,321.4 658.82,320.98 659.3,320.7 660.46,321.05 661.28,321.37 661.9,320.7 662.92,321.77 663.74,321.45 664.4,321.5 665.38,320.71 666.2,319.56 666.6,319.8 667.02,320.12 667.84,321.02 668.6,322.4 669.48,323.23 670.3,323.17 671.2,324.9 671.94,324.73 672.76,324.32 673.7,324.1 674.4,324.77 675.22,325.01 676.3,325.8 676.86,326.03 677.68,326.28 678.8,325.8 679.32,325.12 680.14,324.65 680.96,325.22 681.4,324.9 682.6,325.68 683.42,327.37 683.9,327.5 685.06,328.82 685.88,329.61 686.4,330.0 687.52,330.74 688.34,331.62 689.0,331.7 689.98,331.23 690.8,331.06 691.5,330.8 692.44,331.42 693.26,331.43 694.1,332.5 694.9,331.44 695.72,332.17 696.54,331.2 697.5,330.0 698.18,330.15 699.0,330.68 699.82,329.26 700.8,329.2 701.46,329.66 702.5,331.7 703.1,331.55 703.92,332.03 705.1,330.8 705.56,330.26 706.38,330.25 707.2,331.07 708.02,330.42 708.5,330.8 709.66,330.18 710.48,329.88 711.3,329.73 711.9,330.0 712.94,329.63 713.76,330.06 714.58,330.46 715.3,330.0 716.22,329.52 717.04,331.02 717.8,330.8 718.68,329.82 719.5,328.35 720.32,327.86 721.2,326.6 721.96,325.77 722.78,325.28 723.7,324.9 724.42,323.93 725.24,323.63 726.3,324.1 726.88,324.5 727.7,325.16 728.8,325.8 729.34,325.56 730.16,326.64 730.98,327.46 731.4,328.3 732.62,329.97 733.44,330.51 733.9,330.8 735.08,332.19 735.9,333.29 736.4,334.2 737.54,332.68 738.36,334.79 739.0,334.2 740.0,334.46 740.82,333.72 741.5,332.5 742.46,331.93 743.2,330.8 744.1,330.99 745.3,332.5 745.74,332.56 746.56,332.25 747.5,333.4 748.2,333.3 749.02,334.25 750.0,335.1 750.66,334.7 751.48,334.72 752.5,335.1 753.12,335.32 753.94,335.63 755.1,335.9 755.58,335.8 756.4,335.19 757.6,336.8 758.04,337.1 758.86,335.97 759.68,335.87 760.2,335.9 761.32,337.2 762.14,337.83 762.7,337.6 763.78,339.08 764.6,340.94 765.2,341.4 766.24,343.08 767.06,344.04 767.6,345.1 768.7,342.46 769.8,341.7 770.34,340.28 771.16,340.3 771.9,340.8 772.8,341.28 773.9,340.8 774.44,340.67 775.26,339.68 776.1,339.2 776.9,339.49 777.72,339.4 778.3,340.0 779.36,340.45 780.3,340.0 781.0,340.25 781.82,340.11 782.4,340.8 783.46,341.56 784.6,341.7 785.1,342.74 785.92,341.68 786.8,342.5 787.56,343.34 788.38,344.01 788.8,344.2 790.02,345.45 790.8,345.9 791.66,346.7 792.48,348.13 793.1,348.5 794.12,348.01 795.3,347.6 795.76,347.71 796.58,349.24 797.3,350.2 798.22,350.64 799.3,351.0 799.86,351.35 800.68,351.38 801.5,351.9 802.32,351.5 803.14,350.45 803.7,351.0 804.78,350.05 805.8,350.2 806.42,349.53 807.24,348.35 807.8,347.6 808.88,349.34 810.0,350.2 810.52,351.61 811.34,351.32 812.2,351.9 812.98,352.05 813.8,353.39 814.2,353.6 814.62,354.37 815.44,353.41 816.3,353.6 817.08,354.55 817.9,354.87 818.5,355.3 819.54,354.99 820.7,353.6 821.18,352.88 822.0,352.02 823.1,350.2 823.64,351.76 824.7,353.6 825.28,354.54 826.4,355.3 826.92,356.05 827.8,355.3 828.56,352.9 829.5,350.2 830.2,349.56 831.2,348.5 831.84,347.9 832.66,345.73 833.2,345.1 834.3,344.64 835.4,344.2 835.94,345.12 836.76,345.06 837.6,345.1 838.4,344.39 839.22,342.94 839.7,342.5 840.86,341.62 841.7,341.7 842.5,341.33 843.32,341.57 843.9,340.8 844.96,341.17 846.1,340.8 846.6,341.29 847.42,340.94 848.1,340.8 849.06,341.03 850.2,341.7 850.7,342.19 851.52,342.93 852.4,343.4 853.16,343.02 854.1,343.4 854.8,342.22 855.8,340.8 856.44,340.73 857.26,340.83 858.0,341.7 858.9,342.56 860.0,344.2 860.54,344.02 861.5,345.1 862.18,343.8 863.3,342.5 863.82,342.28 864.8,343.4 865.46,343.87 866.4,344.2 867.1,343.9 868.3,344.2"/>
<polyline class="ln" stroke="#DF5B59" points="117.0,289.9 117.9,283.1 118.7,281.7 119.4,284.4 119.9,289.4 120.6,292.1 121.1,291.15 121.6,292.1 122.4,294.8 123.3,299.4 124.7,300.3 125.2,298.3 126.0,295.7 127.2,290.3 127.66,288.13 128.3,285.8 129.2,284.0 130.1,286.7 130.94,289.24 131.4,291.2 132.8,287.6 133.7,292.1 134.6,294.8 135.04,295.99 136.0,296.6 136.68,295.68 137.3,295.7 138.32,295.61 139.1,294.8 139.96,295.34 140.9,295.7 141.6,296.16 142.7,296.6 143.24,295.78 144.1,293.9 144.88,292.39 145.5,291.2 146.8,290.8 147.34,289.56 148.2,290.3 148.98,291.41 149.5,292.1 150.9,295.7 151.8,301.2 152.26,305.02 152.7,308.4 153.9,307.54 154.5,307.5 155.54,306.4 156.3,304.8 157.18,304.99 158.1,305.7 158.82,304.44 159.9,303.9 160.46,303.14 161.28,301.69 161.7,301.2 162.1,300.46 162.92,300.64 163.5,299.4 164.56,297.37 165.3,296.6 166.2,293.0 167.02,291.89 167.6,291.2 168.66,291.27 169.4,292.1 170.3,292.32 170.8,293.5 171.94,294.68 172.6,295.7 173.58,298.02 174.4,299.4 175.22,299.21 176.04,298.67 176.9,297.6 177.68,295.2 178.5,294.35 179.5,292.5 180.14,291.91 180.96,290.78 182.0,289.2 182.6,289.97 183.42,291.43 184.6,294.2 185.06,294.76 185.88,295.52 186.7,296.76 187.1,297.6 187.52,297.96 188.34,298.04 189.16,298.76 189.7,299.3 190.8,299.04 191.62,300.92 192.2,301.9 193.26,301.17 194.08,300.7 194.7,299.3 195.72,297.48 196.54,295.84 197.3,294.2 198.18,294.1 199.0,293.69 199.8,292.5 200.64,294.13 201.46,294.75 202.4,295.9 203.1,294.91 203.92,294.58 204.9,294.2 205.56,293.46 206.38,292.15 207.2,290.3 208.02,289.57 208.8,288.1 209.66,288.71 210.7,289.2 211.3,286.59 212.12,282.88 212.6,280.8 213.6,271.0 214.58,268.26 215.2,267.5 216.22,266.66 216.9,265.3 217.86,264.27 218.8,263.7 219.5,263.8 220.5,264.7 221.14,263.88 221.96,262.33 222.78,260.34 223.6,258.0 224.42,254.96 225.6,250.3 226.06,251.78 226.9,254.6 227.7,257.45 228.6,261.4 229.34,259.81 230.3,259.7 230.98,260.63 232.0,260.5 232.62,258.52 233.7,254.6 234.26,252.1 235.4,246.9 235.9,248.94 236.8,252.9 237.54,256.09 238.0,258.0 238.8,263.4 239.7,264.7 240.5,266.8 241.64,270.39 242.2,271.9 243.28,276.25 243.9,278.6 244.92,282.82 245.6,285.4 246.56,290.35 247.3,293.9 248.2,296.84 249.0,299.8 249.84,298.35 250.7,296.4 251.48,294.66 252.4,293.1 253.12,294.37 254.1,296.4 254.76,297.33 255.58,298.71 256.6,300.7 257.22,299.09 258.04,297.25 259.2,293.9 259.68,292.68 260.8,291.4 261.32,290.79 262.14,289.18 262.96,287.36 263.4,287.1 264.6,287.42 265.42,288.96 265.9,288.8 267.06,290.31 267.88,291.31 268.5,292.2 269.52,288.17 270.2,285.4 271.16,282.17 271.9,280.3 272.8,278.92 273.62,278.32 274.4,276.9 275.26,274.3 276.08,272.96 276.9,270.2 277.72,272.05 278.6,273.6 279.36,275.42 280.3,278.6 281.0,276.38 282.0,271.9 282.64,270.11 283.46,268.87 284.6,267.6 285.1,266.91 286.3,264.7 287.1,265.1 287.56,264.5 288.38,263.95 288.8,263.1 289.7,261.7 290.84,259.21 291.4,258.0 292.48,257.02 293.1,257.1 294.12,258.42 294.7,259.7 295.76,258.98 296.4,258.0 297.4,257.39 298.1,255.4 299.04,258.17 299.8,260.7 300.68,263.86 301.5,266.8 302.4,261.4 303.14,259.72 303.96,257.86 304.9,256.3 305.6,254.85 306.6,252.9 307.24,250.87 308.3,246.9 308.88,246.15 310.0,245.3 310.52,245.41 311.7,244.4 312.16,245.25 312.98,246.68 313.4,247.8 314.62,244.04 315.1,242.7 316.26,241.26 316.8,241.9 317.9,240.24 318.5,239.3 319.54,238.42 320.36,237.46 321.0,236.8 322.0,238.03 322.7,239.3 323.64,243.57 324.4,246.9 325.1,258.6 326.1,255.86 326.92,253.14 327.6,250.9 328.56,248.87 329.38,247.5 330.2,245.78 331.02,243.73 331.9,242.5 332.66,241.85 333.6,244.2 334.3,246.97 335.3,250.9 335.94,252.8 336.9,255.2 337.58,256.53 338.6,259.4 339.22,260.03 340.0,261.9 341.2,254.3 341.68,254.01 342.9,253.5 343.32,254.95 344.14,257.86 344.6,259.4 345.78,262.44 346.3,263.6 347.42,266.36 348.0,267.9 349.2,261.1 349.88,259.87 350.5,259.4 351.52,259.66 352.34,259.66 353.1,261.1 353.98,262.64 354.8,263.87 355.6,266.2 356.44,263.54 357.3,261.9 358.08,260.34 358.9,260.49 359.3,259.4 359.72,259.01 360.54,258.33 361.5,258.6 362.18,260.04 363.2,261.9 363.82,263.41 364.9,264.5 365.46,261.93 366.6,256.9 367.1,256.39 367.92,254.68 368.74,253.53 369.2,253.5 370.38,254.28 370.8,254.3 372.02,252.94 372.5,251.8 373.66,251.81 374.48,251.11 375.1,252.6 376.12,251.76 376.94,251.93 377.6,251.8 378.58,250.73 379.4,250.13 380.2,249.2 381.04,247.41 381.9,245.8 382.68,245.38 383.5,244.84 384.1,245.0 385.14,246.75 386.1,247.5 386.78,244.79 387.8,241.6 388.42,241.31 389.24,240.1 389.8,240.8 390.88,240.6 392.0,239.9 392.52,241.28 393.7,243.3 394.16,243.22 394.98,242.99 395.4,242.5 395.8,244.42 396.62,247.16 397.1,249.2 398.26,244.85 398.8,242.5 399.9,242.66 400.5,241.6 401.54,241.47 402.7,241.6 403.18,243.94 403.9,247.5 404.82,249.95 405.6,250.9 406.46,250.74 407.3,250.1 408.1,251.73 409.0,254.3 409.74,253.74 410.56,254.2 411.5,254.3 412.2,256.56 413.2,260.3 414.1,267.5 414.9,264.5 415.48,266.44 416.6,269.4 417.12,269.72 417.94,268.2 418.76,267.03 419.2,265.6 420.4,267.04 420.8,267.9 421.22,269.33 421.7,270.1 422.5,270.4 424.0,272.8 424.5,274.11 425.32,276.06 425.9,277.0 426.96,279.92 427.78,280.71 428.5,282.1 429.42,285.57 430.2,287.9 431.06,290.22 431.9,292.1 432.7,289.59 433.6,287.9 434.34,288.1 435.1,287.5 435.98,285.81 436.8,285.8 437.62,286.07 438.5,286.6 439.26,285.25 440.2,283.2 440.9,283.21 441.5,284.1 442.7,290.8 443.36,293.27 444.4,297.6 445.0,299.81 446.1,302.7 446.64,304.4 447.8,306.9 448.28,307.04 449.1,307.7 449.5,308.6 450.3,297.6 450.74,296.36 451.56,296.37 452.0,295.1 453.2,294.65 453.7,295.9 454.84,297.95 455.4,299.3 456.48,296.85 457.1,295.9 458.12,296.56 459.2,297.6 459.76,299.44 460.5,301.0 461.4,303.36 462.2,306.1 463.04,307.16 463.9,309.5 464.68,310.87 465.9,312.9 466.32,314.19 467.14,315.06 468.1,315.4 468.78,317.79 469.8,321.4 470.42,324.47 471.5,329.7 472.4,333.1 472.88,330.39 473.7,325.4 474.9,322.9 475.34,324.52 476.16,326.27 476.6,327.1 477.8,322.94 478.3,321.2 479.44,320.91 480.0,320.3 481.08,319.52 481.7,319.5 482.72,317.96 483.4,316.9 484.36,315.37 485.1,315.3 486.0,318.21 486.8,321.2 487.64,320.56 488.5,319.5 489.28,316.49 490.2,312.7 490.92,310.08 491.9,306.1 492.56,305.41 493.6,305.3 494.2,306.28 495.3,306.9 495.84,304.8 496.9,301.9 497.48,300.62 498.6,299.3 499.12,298.44 500.3,295.1 500.76,295.53 501.58,295.41 502.0,294.2 503.22,289.67 503.7,287.5 504.86,287.17 505.4,286.6 506.5,288.37 507.1,289.2 508.14,288.33 508.8,287.5 509.78,286.26 510.6,286.0 511.0,285.8 511.42,285.6 512.24,286.27 513.1,288.3 513.88,287.67 514.7,287.5 515.52,288.65 516.4,290.8 517.16,289.36 518.1,290.0 518.8,290.74 519.8,292.5 520.44,293.15 521.5,294.2 522.08,294.74 523.2,295.9 523.72,295.71 524.9,294.2 525.36,295.3 526.18,296.18 526.6,296.8 527.82,298.08 528.3,298.5 529.46,296.5 530.0,295.9 531.1,294.83 531.7,295.1 532.74,292.98 533.4,292.5 534.38,291.66 535.1,290.8 536.02,292.15 537.1,290.8 537.66,291.8 538.5,292.5 539.3,294.55 540.2,297.6 540.94,298.66 541.9,301.0 542.58,301.48 543.6,302.7 544.22,304.7 545.1,307.6 545.86,306.69 546.68,306.41 547.1,305.9 548.32,306.23 549.3,307.6 549.96,310.37 551.0,312.7 551.6,314.18 552.7,316.1 553.24,317.25 554.4,318.6 554.88,319.66 556.1,320.3 556.52,319.95 557.34,318.16 557.8,318.6 558.98,320.31 559.5,321.2 560.62,324.71 561.2,326.3 562.26,324.34 562.9,322.0 563.9,318.03 564.6,315.3 565.54,315.32 566.3,314.4 567.18,316.72 568.0,317.8 568.82,318.84 569.7,321.2 570.46,320.03 571.4,318.6 572.1,321.75 573.1,326.3 573.74,323.89 574.7,320.3 575.38,317.7 576.4,314.4 577.02,313.82 578.1,313.6 578.66,315.4 579.8,318.6 580.3,317.95 581.5,316.1 581.94,316.74 582.76,317.72 583.2,316.1 584.4,318.8 584.9,319.5 586.04,319.75 586.6,320.3 587.68,321.89 588.3,322.0 589.32,323.1 590.0,322.9 590.96,321.45 591.7,320.3 592.6,319.75 593.4,317.8 594.24,317.6 595.1,316.9 595.88,316.92 596.8,316.1 597.52,316.95 598.5,317.8 599.16,317.73 600.2,316.9 600.8,317.1 601.9,318.6 602.44,319.25 603.26,321.02 604.1,322.0 604.9,322.49 605.8,323.7 606.54,321.91 607.36,320.56 607.8,321.2 609.0,319.59 609.8,318.6 610.64,317.93 611.46,316.78 612.0,316.1 613.1,314.23 614.2,312.7 614.74,312.47 615.56,311.58 616.3,310.2 617.2,308.03 618.0,305.9 618.84,305.78 619.66,304.01 620.5,303.4 621.3,303.03 622.12,302.07 622.7,301.7 623.76,303.73 624.7,304.2 625.4,305.14 626.22,305.94 626.8,306.8 627.86,306.86 629.0,305.1 629.5,305.61 630.7,305.1 631.14,306.27 631.96,307.89 632.4,309.3 633.6,310.75 634.1,311.9 635.24,312.73 636.06,313.35 636.6,313.6 637.7,313.8 638.52,314.14 639.2,315.3 640.16,315.19 640.98,315.53 641.7,315.3 642.62,316.45 643.7,316.9 644.26,317.49 645.08,317.91 645.9,318.6 646.72,320.14 647.6,321.2 648.36,321.77 649.3,323.7 650.0,323.23 651.0,322.0 651.64,321.21 652.7,319.5 653.28,318.23 654.1,317.7 654.92,316.86 655.74,315.37 656.8,314.7 657.38,313.29 658.2,314.22 659.3,313.1 659.84,312.5 660.66,312.13 661.48,311.78 661.9,313.1 663.12,312.69 663.94,313.88 664.4,314.7 665.58,314.48 666.6,314.7 667.22,315.54 668.04,317.03 668.6,319.0 669.68,323.44 670.3,325.8 671.32,323.51 672.4,322.4 672.96,323.28 673.78,323.83 674.6,323.2 675.42,325.2 676.24,325.28 676.8,326.6 677.88,324.89 678.8,324.1 679.52,324.55 680.34,323.66 680.8,323.2 681.98,322.92 683.1,324.9 683.62,324.98 684.44,326.83 685.6,327.5 686.08,328.06 686.9,328.46 687.6,329.2 688.54,329.43 689.36,330.54 689.8,330.0 691.0,329.03 692.0,328.3 692.64,331.3 693.7,335.1 694.28,334.89 695.1,334.46 695.8,333.4 696.74,331.95 697.8,329.2 698.38,328.4 699.2,326.21 700.0,324.9 700.84,324.53 701.66,325.71 702.2,325.8 703.3,328.46 703.9,330.0 704.94,330.04 705.9,330.8 706.58,330.68 707.4,329.01 708.0,329.2 709.04,329.1 710.2,330.0 710.68,329.97 711.5,329.07 712.4,328.3 713.14,328.46 713.96,328.67 714.4,328.3 715.6,330.11 716.4,330.8 717.24,331.81 718.06,333.12 718.6,333.4 719.7,330.93 720.8,330.0 721.34,329.49 722.16,329.64 722.9,327.5 723.8,327.0 724.9,326.6 725.44,326.15 726.26,324.91 727.1,325.8 727.9,326.79 728.8,328.3 729.54,328.8 730.36,329.67 731.0,330.8 732.0,333.2 733.1,334.2 733.64,335.34 734.46,336.41 735.1,336.8 736.1,338.35 736.8,339.3 737.74,340.07 738.5,341.0 739.38,338.55 740.2,336.82 740.7,335.9 741.84,335.64 742.4,335.9 743.48,336.06 744.6,336.8 745.12,338.08 745.94,338.94 746.6,339.3 747.58,339.93 748.6,341.0 749.22,341.6 750.04,341.79 750.8,342.7 751.68,343.32 752.5,344.08 753.1,345.3 754.14,344.17 755.1,343.6 755.78,343.12 756.6,343.75 757.1,343.6 758.24,343.6 759.3,343.6 759.88,343.22 760.7,342.25 761.5,342.7 762.34,344.37 763.16,345.8 763.6,346.9 764.8,349.17 765.4,350.2 766.44,351.77 767.6,354.4 768.08,353.31 768.9,350.28 769.8,347.6 770.54,347.86 771.36,346.35 771.9,346.8 773.2,349.3 773.82,346.82 774.64,343.97 775.3,341.7 776.28,341.61 776.9,341.7 777.92,341.98 779.0,343.4 779.56,342.29 780.38,341.81 781.2,342.5 782.02,341.91 782.84,344.04 783.4,344.2 784.48,344.61 785.4,345.9 786.12,345.86 786.94,346.46 787.5,347.6 788.58,347.95 789.7,349.3 790.22,349.69 791.04,350.7 791.9,351.0 792.68,352.0 793.9,351.9 794.32,352.4 795.14,350.68 795.9,351.0 796.78,352.12 797.6,353.41 798.1,353.6 799.24,354.91 800.3,355.3 800.88,354.37 801.7,357.12 802.4,356.1 803.34,356.03 804.4,355.3 804.98,353.98 806.1,351.9 806.62,352.54 807.8,351.9 808.26,353.46 809.08,354.68 809.5,356.1 810.72,357.44 811.7,359.5 812.36,360.39 813.18,360.99 813.9,360.3 814.82,360.91 815.9,361.2 816.46,362.64 817.28,362.45 818.0,362.9 818.92,363.61 819.7,364.6 820.56,364.74 821.4,365.4 822.2,363.99 823.1,362.9 823.84,366.93 824.4,369.7 825.48,371.57 826.1,373.1 827.12,373.98 827.8,373.9 828.76,369.14 829.5,365.4 830.4,364.1 831.2,362.9 832.04,362.33 833.2,360.3 833.68,360.64 834.5,360.69 835.4,359.5 836.14,358.1 836.96,358.31 837.6,356.9 838.6,356.1 839.7,355.3 840.24,356.5 841.4,357.8 841.88,356.54 842.7,353.66 843.4,351.0 844.34,351.17 845.16,350.22 845.6,350.2 846.8,349.54 847.8,349.3 848.44,351.39 849.26,350.09 849.8,351.0 850.9,352.37 851.9,354.4 852.54,356.32 853.6,357.8 854.18,356.4 855.3,352.7 855.82,353.34 856.64,354.08 857.5,354.4 858.28,355.17 859.1,355.61 859.7,356.9 860.74,358.59 861.5,359.5 862.38,359.92 863.3,358.6 864.02,359.04 864.8,360.3 865.66,360.75 866.4,361.2 867.3,360.59 868.3,360.3"/>
<polyline class="ln" stroke="#FF0000" points="116.8,298.5 117.5,299.4 118.3,301.2 119.0,304.8 119.8,307.9 120.5,309.3 121.2,308.4 121.72,306.55 122.4,306.1 123.36,307.32 123.8,306.1 125.1,307.5 125.82,305.61 126.5,304.8 127.8,303.0 128.28,304.16 129.2,302.1 129.92,303.58 130.5,303.0 131.9,304.8 132.38,307.14 133.2,306.1 134.02,306.85 134.6,307.0 136.0,306.1 136.48,304.72 137.3,303.0 138.12,301.25 138.7,299.8 140.0,300.7 140.58,302.05 141.4,303.4 142.22,304.31 142.7,304.8 144.1,306.1 144.68,305.54 145.5,304.3 146.32,303.54 146.8,303.4 148.2,303.9 148.78,303.05 149.5,302.5 150.42,301.67 150.9,301.2 152.2,303.9 152.88,304.99 153.6,305.2 154.9,304.8 155.34,305.03 156.3,306.1 156.98,306.12 157.7,307.5 159.0,306.1 159.44,304.87 160.4,303.9 161.08,306.31 161.7,305.2 163.1,303.0 163.54,301.88 164.4,300.3 165.18,298.57 165.8,299.4 167.2,298.9 167.64,298.12 168.5,295.7 169.28,297.45 169.9,297.5 171.2,301.2 171.74,302.08 172.6,303.9 173.38,303.9 173.9,305.2 175.3,306.1 175.84,306.38 176.9,307.8 177.48,306.53 178.6,304.4 179.12,303.44 179.94,301.72 180.76,301.08 181.2,299.3 182.4,298.38 183.22,296.78 183.7,295.9 184.86,293.98 185.68,293.47 186.3,293.4 187.32,290.58 188.14,290.79 188.8,290.8 189.78,287.66 190.6,285.4 191.4,282.4 192.24,284.11 193.1,284.1 193.88,283.16 194.7,280.9 195.6,279.0 196.34,281.91 197.3,284.1 197.98,286.0 198.8,284.24 199.8,285.8 200.44,287.3 201.26,288.39 202.4,289.2 202.9,290.76 204.1,292.5 204.54,290.48 205.36,286.32 205.8,284.1 207.0,283.31 207.82,281.06 208.3,280.7 209.46,282.89 210.0,283.2 211.1,280.8 211.7,279.0 212.74,280.58 213.4,282.4 214.38,281.91 215.1,281.2 216.02,283.57 217.1,286.3 217.66,288.02 218.48,290.05 219.3,291.4 220.12,291.85 221.0,290.5 221.76,286.21 222.7,282.0 223.4,280.27 224.4,278.6 225.04,279.18 226.1,282.0 226.68,283.46 227.8,287.1 228.32,287.51 229.5,288.0 229.96,289.21 230.78,292.62 231.2,293.9 231.6,295.15 232.42,296.91 233.24,300.22 233.7,301.5 234.88,297.47 235.4,295.6 236.52,288.64 237.1,285.4 238.16,278.3 238.8,273.6 239.8,276.11 240.5,276.9 241.44,282.56 242.2,287.1 243.08,281.26 243.9,275.3 244.72,277.33 245.6,278.6 246.36,280.15 247.18,281.31 248.1,282.0 248.82,278.87 249.8,274.4 250.46,272.53 251.5,270.2 252.1,272.12 253.2,275.3 253.74,276.56 254.9,280.3 255.38,281.61 256.2,284.2 256.6,285.4 257.02,282.55 257.84,276.87 258.3,273.6 259.48,275.41 260.0,276.1 261.12,274.71 261.7,275.3 262.76,272.79 263.4,271.9 264.4,270.99 265.22,269.99 265.9,268.5 266.86,265.83 267.6,264.7 268.5,265.1 269.32,262.59 270.2,259.7 270.96,259.42 271.78,259.68 272.7,258.0 273.42,257.25 274.24,256.66 275.3,255.4 275.88,254.08 276.7,253.28 277.8,251.2 278.34,246.88 279.5,237.6 279.98,235.96 280.8,231.7 282.0,237.6 282.44,240.97 283.2,246.9 284.08,249.8 284.6,251.2 285.72,255.12 286.3,256.3 287.36,255.47 288.0,255.4 289.0,254.65 289.7,252.9 290.64,253.76 291.4,252.0 292.28,250.77 293.1,247.8 293.92,245.1 294.7,244.4 295.56,244.54 296.4,242.7 297.2,240.87 298.1,239.3 298.84,240.6 299.66,242.88 300.7,245.3 301.3,245.88 302.4,247.8 302.94,247.33 304.1,244.4 304.58,242.95 305.4,239.76 305.8,237.6 306.22,236.28 307.04,233.67 307.5,231.7 308.68,240.48 309.2,244.4 310.32,245.81 310.8,247.8 311.96,249.04 312.5,251.2 313.6,252.7 314.2,254.6 315.24,256.56 316.4,258.0 316.88,256.27 317.7,253.27 318.5,251.2 319.34,248.4 320.2,246.1 320.98,244.87 321.9,242.7 322.62,242.1 323.44,244.21 323.9,244.4 325.1,247.5 325.9,251.37 326.4,254.3 327.6,242.5 328.36,245.03 329.3,249.2 330.0,244.22 331.0,237.4 331.64,235.85 332.7,232.3 333.28,230.19 334.4,227.2 334.92,226.69 336.1,223.8 336.56,222.7 337.38,221.57 337.8,220.4 339.02,229.18 339.5,232.3 340.66,224.2 341.2,220.4 342.3,211.73 342.9,206.9 343.94,195.21 344.6,187.9 345.4,179.4 346.4,181.23 346.8,182.8 347.22,178.44 348.0,170.9 349.2,159.1 349.68,153.34 350.5,143.8 351.4,130.3 352.5,126.0 352.96,132.23 353.6,140.4 354.7,133.6 355.42,133.83 356.4,136.2 357.06,142.2 357.6,147.2 359.0,160.8 359.52,160.4 360.3,159.1 361.5,170.9 361.98,169.41 362.8,167.26 363.2,165.0 363.62,168.62 364.4,174.3 365.26,181.88 365.8,186.2 366.9,174.07 367.5,167.5 368.5,160.8 369.5,179.4 370.5,170.9 371.0,177.82 371.7,187.9 372.9,181.1 373.46,186.9 374.2,194.7 375.1,200.1 375.92,204.7 376.8,210.3 377.56,208.71 378.5,209.4 379.2,213.5 380.2,218.7 380.84,220.93 381.9,225.5 382.48,227.52 383.6,231.4 384.12,230.66 385.3,227.2 385.76,226.45 386.9,223.8 387.4,220.75 388.6,213.6 389.04,213.59 389.86,212.41 390.3,215.3 391.5,221.11 392.0,223.0 393.14,216.27 393.7,211.9 394.78,206.44 395.7,201.2 396.42,201.95 397.1,203.5 398.0,202.3 398.8,200.1 399.7,203.17 400.5,206.9 401.4,194.7 402.16,191.02 402.7,187.9 403.9,198.1 404.62,194.59 405.6,189.6 406.26,187.47 406.8,187.0 408.1,191.3 408.72,194.3 409.8,199.9 410.36,199.52 411.5,201.4 412.4,202.6 413.2,198.9 413.64,199.18 414.46,200.2 414.9,200.3 416.1,198.28 416.6,198.1 417.5,199.2 418.3,199.7 419.2,203.5 420.0,196.4 421.02,196.14 421.7,195.7 422.66,193.04 423.7,190.4 424.3,195.57 425.1,202.5 425.94,206.5 426.76,210.9 427.6,214.5 428.5,189.6 429.22,187.45 430.2,184.5 430.86,182.05 431.5,179.4 432.5,184.32 433.2,187.9 434.14,183.82 434.9,181.1 435.9,170.2 436.6,166.31 437.1,163.9 438.5,173.6 439.06,177.47 439.8,181.2 440.7,171.64 441.7,160.7 442.34,157.31 443.16,152.55 443.6,150.3 444.9,151.2 445.62,159.04 446.1,164.7 446.9,159.7 448.08,167.93 448.5,170.8 449.8,197.3 450.54,188.26 451.2,180.3 452.18,169.24 452.9,160.7 453.82,157.19 454.6,153.7 455.8,152.9 456.28,147.8 457.1,139.3 457.92,143.55 458.5,146.1 459.7,145.3 460.38,142.98 460.8,141.0 462.2,144.4 462.84,144.58 463.9,142.7 464.7,129.2 465.6,113.9 466.12,116.52 466.9,120.7 468.1,125.8 468.58,124.4 469.0,124.9 469.8,147.8 470.22,152.33 471.0,160.7 471.86,174.73 472.4,183.7 473.7,164.1 474.32,160.97 475.4,155.4 475.96,158.29 476.6,161.4 477.5,174.4 478.42,171.74 479.24,168.94 479.7,167.0 480.8,163.4 481.7,154.6 482.52,154.46 483.4,152.9 484.16,144.41 484.6,139.3 485.9,137.6 486.62,131.27 487.6,122.4 488.26,120.13 489.0,116.4 490.2,120.7 490.72,124.02 491.4,128.3 492.7,117.3 493.18,111.99 494.1,102.0 494.82,95.91 495.3,91.9 496.4,96.1 497.28,91.01 497.8,87.6 499.2,98.6 499.74,106.1 500.3,113.9 501.2,134.2 502.2,137.89 502.9,140.2 504.2,135.9 504.66,127.48 505.4,113.9 506.6,116.4 507.12,117.41 508.0,119.0 508.76,110.26 509.3,104.6 510.5,127.5 511.22,124.05 511.7,122.4 513.1,134.2 513.68,139.27 514.4,145.3 515.32,147.31 516.1,148.6 517.3,135.9 517.78,140.64 518.5,147.8 519.8,149.5 520.24,150.38 521.2,152.0 521.88,146.44 522.9,138.5 523.52,137.15 524.1,137.6 525.3,140.2 525.98,146.05 526.6,151.2 527.62,155.36 528.3,158.0 529.26,152.56 530.0,147.8 530.8,138.5 532.0,141.0 532.54,135.06 533.4,125.8 534.18,124.98 535.1,124.1 535.82,127.29 536.4,128.3 537.6,115.6 538.28,109.85 538.8,105.4 540.2,87.6 540.74,89.4 541.5,91.9 542.7,110.5 543.2,114.3 543.9,119.8 545.1,115.6 545.66,103.98 546.4,88.5 547.6,90.2 548.12,90.53 548.8,91.9 549.8,100.3 550.58,101.3 551.0,102.0 552.2,118.1 553.04,116.09 553.6,113.9 554.9,97.8 555.8,96.9 556.32,103.98 556.9,112.2 558.3,123.2 558.78,120.24 559.5,115.6 560.7,110.5 561.24,109.01 562.0,109.7 562.88,108.15 563.4,109.7 564.1,124.1 564.52,123.76 565.4,125.8 566.16,126.51 566.8,126.6 568.0,132.5 568.62,134.77 569.2,137.6 570.5,143.6 571.08,144.5 571.9,146.9 573.1,154.6 573.9,158.8 574.36,156.59 575.3,154.6 576.4,139.3 576.82,137.53 577.6,135.1 578.46,137.85 579.0,140.2 580.3,137.6 580.92,135.7 581.5,136.8 582.7,144.4 583.7,142.7 584.2,147.62 584.9,154.6 585.8,158.0 586.66,154.7 587.1,152.9 588.3,146.1 589.12,142.95 590.0,140.2 590.76,138.28 591.7,135.9 592.4,138.31 592.9,139.3 594.2,138.5 594.86,141.97 595.6,144.4 596.5,144.34 597.3,144.4 598.5,150.3 598.96,151.67 599.7,152.9 600.6,154.25 601.4,154.6 602.24,158.94 602.9,162.4 603.88,168.82 604.4,172.7 605.8,170.2 606.34,168.46 606.9,165.9 608.1,171.9 608.8,171.11 609.5,171.0 610.44,174.72 611.2,176.9 612.08,175.11 612.9,172.7 613.72,169.31 614.6,165.1 615.4,162.2 616.18,160.61 617.1,163.1 617.82,163.5 618.3,163.9 619.7,160.5 620.28,158.59 621.4,155.4 621.92,156.08 623.1,154.6 623.56,152.75 624.4,153.7 625.2,155.91 626.1,158.8 626.84,158.68 627.8,158.8 628.48,160.85 629.5,161.4 630.12,161.17 631.2,163.6 631.76,166.28 632.5,170.2 633.4,158.53 634.1,149.5 635.04,148.02 635.8,146.1 636.68,146.39 637.5,145.3 638.32,145.83 639.14,144.41 640.0,146.1 640.78,144.77 641.7,146.9 642.42,149.2 643.1,152.0 644.2,152.9 644.88,155.57 645.4,156.3 646.8,157.1 647.34,160.5 648.3,166.2 648.98,166.24 649.8,164.99 650.2,165.1 650.62,165.26 651.7,166.2 652.26,164.68 653.2,163.4 653.9,164.82 655.0,167.5 655.54,169.35 656.4,171.5 657.18,166.42 657.6,163.1 658.82,162.04 659.3,162.2 660.5,169.0 661.28,172.03 661.9,174.1 663.2,174.9 663.74,174.69 664.9,172.4 665.38,167.71 666.1,160.5 667.3,159.7 667.84,161.32 668.6,163.9 669.48,168.31 670.0,170.7 670.7,175.8 671.12,174.39 672.0,171.5 672.76,170.74 673.4,170.7 674.6,169.0 675.4,158.0 676.3,157.1 676.86,158.6 677.5,159.7 678.8,160.5 679.7,164.7 680.14,162.21 680.8,159.7 681.78,160.32 682.5,161.4 683.42,163.16 683.9,164.7 685.3,170.7 685.88,173.58 686.4,175.8 687.6,181.7 688.6,185.9 689.16,189.85 689.8,194.4 691.0,191.9 691.62,190.4 692.4,190.2 693.26,188.89 693.7,188.5 694.9,190.01 695.4,190.2 696.54,190.08 697.1,190.2 698.18,189.68 698.8,189.3 699.82,192.02 700.5,192.7 701.7,196.9 702.5,200.3 703.1,198.14 703.9,194.4 704.6,190.2 705.9,191.0 706.38,186.82 706.8,183.4 708.0,184.2 708.84,185.33 709.3,186.8 710.48,184.69 711.0,184.2 712.4,190.2 712.94,188.89 714.1,190.2 714.58,193.16 715.3,196.9 716.22,196.61 716.9,196.9 718.1,197.8 718.68,200.57 719.2,202.0 720.3,195.3 721.14,193.47 722.0,194.4 722.78,192.8 723.7,192.7 724.42,194.64 725.4,196.9 726.06,197.34 727.1,199.5 727.7,200.46 728.3,199.5 729.3,194.4 730.5,201.2 730.98,201.12 731.8,201.81 732.2,202.0 732.62,202.78 733.44,203.26 733.9,204.6 735.08,207.87 735.6,208.8 736.8,204.6 737.8,201.2 738.5,207.1 739.18,202.51 739.8,197.8 741.2,199.5 741.64,199.68 742.4,200.3 743.2,180.8 744.1,178.44 744.6,178.3 745.74,177.91 746.3,179.2 747.5,182.5 748.2,182.0 748.6,180.8 749.02,177.62 750.0,169.8 750.66,168.55 751.4,168.1 752.5,166.4 753.12,167.89 754.2,169.8 754.76,170.25 755.4,171.5 756.4,173.08 756.8,174.1 757.6,177.5 758.04,175.27 758.86,172.43 759.3,170.7 760.5,179.2 761.32,179.82 761.9,180.0 763.2,174.1 763.78,172.78 764.4,172.4 765.4,177.7 766.24,179.81 766.8,181.9 768.1,184.5 768.7,182.27 769.3,180.3 770.34,182.81 771.0,185.3 772.2,187.0 772.8,185.27 773.6,184.5 774.44,186.83 775.3,189.6 776.08,189.56 776.6,188.7 777.8,181.9 778.54,178.55 779.0,176.0 780.3,177.7 781.0,176.09 782.0,175.2 782.64,177.53 783.7,176.9 784.28,177.81 785.4,176.0 785.92,173.77 786.8,169.9 787.56,166.21 788.0,163.8 789.2,162.84 789.7,162.1 790.84,158.66 791.4,157.9 792.5,163.0 793.3,163.23 793.9,163.8 795.3,168.1 795.76,163.8 796.4,157.9 797.4,158.8 798.1,159.6 799.04,160.46 799.8,162.1 800.68,163.44 801.5,163.0 802.32,161.31 803.2,161.3 803.96,159.97 804.9,157.0 805.6,160.43 806.6,163.8 807.24,160.34 807.8,157.9 809.2,144.3 809.7,143.72 810.5,142.6 811.34,142.95 812.2,141.8 812.98,144.86 813.9,147.7 814.62,146.53 815.6,145.2 816.26,147.07 817.3,148.6 817.9,153.13 818.5,157.9 819.7,165.5 820.36,159.02 821.0,152.8 822.0,144.46 822.4,140.9 822.82,139.92 823.6,137.5 824.46,139.33 825.3,140.1 826.1,142.86 826.9,145.2 828.1,142.6 828.56,140.46 829.5,135.0 830.2,133.84 830.8,132.5 832.0,117.2 832.9,108.7 833.7,99.4 834.3,104.96 834.9,110.4 836.3,114.7 836.76,113.56 837.58,112.49 838.0,113.0 839.3,101.9 840.04,100.07 840.5,101.1 841.7,96.9 842.5,99.45 843.1,101.9 844.4,115.5 845.1,123.1 845.78,125.09 846.4,125.7 847.8,131.6 848.24,129.04 849.0,126.5 849.88,125.04 850.7,125.7 851.52,129.61 852.4,134.2 853.16,133.8 853.6,135.0 854.9,131.6 855.62,128.69 856.3,126.5 857.5,119.7 858.08,119.05 859.2,118.9 859.72,115.93 860.3,112.1 861.5,109.6 862.18,105.13 862.7,101.9 863.8,100.3 864.8,101.1 865.7,114.7 866.28,120.31 866.8,124.8 868.1,126.1"/>
<polyline class="ln" stroke="#E3C350" points="117.2,293.9 117.9,292.1 118.7,291.2 119.4,295.7 120.1,301.2 120.9,299.4 121.6,294.8 122.4,291.2 123.3,288.5 123.76,290.98 124.2,293.0 125.1,297.5 126.0,298.5 126.9,294.8 127.8,291.2 128.7,288.5 129.6,286.7 130.5,283.1 131.4,281.7 132.3,282.6 132.78,283.86 133.2,284.0 133.6,284.98 134.2,286.2 135.1,284.9 136.0,282.6 136.88,281.24 137.3,280.4 138.7,278.6 139.6,278.6 140.16,280.14 140.9,280.8 141.8,281.48 142.3,282.2 143.6,283.1 144.26,281.83 145.0,280.8 145.9,279.57 146.4,278.6 147.7,279.0 148.36,280.48 149.1,280.8 150.0,282.66 150.4,284.0 150.82,284.45 151.8,286.2 152.46,287.45 153.1,288.5 154.1,290.11 154.5,289.0 154.92,288.7 155.9,287.2 156.56,286.17 157.2,284.4 158.1,284.4 159.02,286.14 159.5,287.6 160.8,291.2 161.48,291.94 162.2,293.9 163.5,293.0 163.94,291.87 164.9,288.5 165.58,287.21 166.2,285.3 167.6,284.0 168.04,285.39 169.0,284.0 169.68,286.0 170.3,284.4 171.7,285.8 172.14,285.88 172.96,286.52 173.5,286.7 174.6,286.97 175.3,287.2 176.24,289.53 176.9,291.7 177.88,288.32 178.6,285.8 179.52,282.61 180.34,280.15 181.2,277.3 181.98,275.18 182.8,272.96 183.7,270.5 184.44,269.69 185.26,268.17 186.3,265.4 186.9,264.77 187.72,262.35 188.8,260.3 189.36,258.5 190.5,255.3 191.0,256.01 191.82,257.01 192.64,257.99 193.1,259.5 194.28,260.57 195.1,261.23 195.6,261.2 196.74,262.87 197.56,262.51 198.1,262.9 199.2,264.55 200.02,265.98 200.7,267.1 201.66,267.34 202.48,268.25 203.2,268.0 204.12,268.74 204.9,269.7 205.76,270.08 206.58,270.95 207.5,272.2 208.22,270.28 209.2,268.0 209.86,266.91 210.68,266.54 211.7,265.4 212.32,264.11 213.14,262.33 214.2,260.3 214.78,257.84 215.6,254.39 216.8,249.5 217.24,247.75 218.06,247.56 218.5,246.9 219.7,246.12 220.2,245.3 221.34,241.07 221.9,239.3 222.98,235.13 223.6,232.5 224.62,229.32 225.3,227.5 226.26,229.73 226.9,230.8 227.9,236.15 228.6,240.2 229.54,234.9 230.3,230.8 231.18,228.04 232.0,224.9 232.82,230.01 233.7,235.9 234.46,226.01 235.4,213.9 236.3,202.0 236.92,201.04 237.74,198.97 238.5,196.9 239.38,200.04 240.2,202.0 241.4,217.3 241.84,218.73 242.66,219.87 243.1,220.7 244.7,223.2 245.12,223.87 245.94,225.88 246.4,226.6 247.58,232.0 248.1,234.2 249.22,231.06 249.8,229.2 250.86,237.11 251.5,241.9 252.5,234.37 253.2,229.2 254.4,237.6 254.96,241.49 255.8,247.8 256.6,252.68 257.5,258.0 258.24,252.77 259.2,246.1 259.88,245.88 260.8,245.3 261.52,246.79 262.5,246.9 263.16,246.65 263.98,246.53 264.6,245.3 265.9,249.5 266.44,250.77 267.6,252.0 268.08,250.58 268.9,248.23 269.7,246.9 270.54,245.54 271.36,246.24 271.9,247.8 273.0,245.85 273.6,246.1 274.64,245.71 275.46,244.75 276.1,244.4 277.1,246.04 277.8,246.1 278.74,242.69 279.5,239.3 280.38,241.55 281.2,243.6 282.02,245.76 282.9,246.9 283.66,243.66 284.6,239.3 285.3,242.1 286.3,246.1 286.94,242.3 288.0,237.6 288.58,239.35 289.7,241.9 290.22,242.15 291.4,244.4 291.86,241.34 292.68,236.44 293.1,233.4 294.7,240.2 295.14,240.14 295.96,239.01 296.4,239.3 297.6,235.65 298.1,234.2 299.24,237.14 299.8,238.5 300.88,242.1 301.5,243.6 302.52,247.05 303.2,249.5 304.16,247.09 304.9,244.4 305.8,240.31 306.6,237.6 307.44,239.23 308.3,241.0 309.08,239.73 310.0,237.6 310.72,236.22 311.7,235.9 312.36,236.61 313.4,238.5 314.0,238.32 315.1,235.9 315.64,233.85 316.8,229.2 317.28,227.6 318.1,225.4 318.5,224.9 318.92,226.33 319.74,228.0 320.2,229.2 321.38,223.75 322.2,219.8 323.02,222.58 323.84,224.71 324.4,226.6 325.1,234.0 326.3,230.51 326.8,228.9 327.94,223.37 328.5,221.3 329.58,224.82 330.2,226.4 331.22,224.95 331.9,223.8 332.86,222.07 333.68,222.19 334.4,220.4 335.32,217.34 336.1,214.5 336.96,216.75 337.8,219.6 338.6,222.93 339.5,226.4 340.24,224.13 341.2,220.4 341.88,219.02 342.9,216.2 343.52,214.48 344.6,211.1 345.16,212.22 346.3,213.6 347.1,198.1 348.0,206.0 348.8,191.3 349.26,195.13 349.7,198.4 350.5,181.1 351.72,173.9 352.2,170.9 353.6,164.2 354.18,162.93 354.7,161.6 355.9,167.5 356.64,171.74 357.3,176.0 358.28,180.43 359.0,184.5 359.92,184.18 360.7,183.6 361.56,190.4 362.2,195.7 363.2,194.7 364.1,202.6 364.9,199.7 365.8,209.4 366.6,201.4 367.3,200.66 368.3,198.6 368.94,200.17 370.0,201.6 370.58,203.0 371.7,202.0 372.22,203.57 373.4,206.9 374.2,215.3 374.68,217.66 375.9,223.8 376.32,226.32 377.14,230.25 377.6,232.3 378.78,237.48 379.3,239.9 380.42,236.96 381.0,235.7 382.06,234.97 382.7,234.8 383.7,236.32 384.4,236.5 385.34,234.34 386.1,233.1 386.98,231.71 387.8,230.6 388.62,229.12 389.5,227.2 390.26,227.46 391.2,228.9 391.9,230.2 392.9,231.4 393.54,229.98 394.6,227.2 395.18,227.08 396.3,226.4 396.82,225.31 398.0,223.0 398.46,223.88 399.28,223.76 399.7,223.8 400.92,219.89 401.4,218.7 402.56,218.95 403.38,219.98 403.9,219.6 405.02,221.08 405.6,220.4 406.66,221.74 407.3,222.1 408.3,222.25 409.12,222.21 409.8,221.3 410.76,220.39 411.58,219.35 412.4,218.7 413.22,216.97 414.1,214.5 414.86,213.08 415.8,211.9 416.5,210.63 417.32,211.2 418.0,211.1 418.96,213.36 420.0,216.2 420.6,217.84 421.7,219.6 422.24,221.46 423.4,223.8 423.88,225.48 424.7,228.03 425.1,228.9 425.52,230.24 426.34,232.29 427.1,233.1 427.98,229.66 428.5,227.2 429.8,215.3 430.44,216.82 431.26,216.26 431.9,216.2 432.9,214.72 433.6,214.5 434.54,215.1 435.1,215.1 436.18,212.69 436.8,211.7 437.82,212.63 438.5,212.5 439.46,211.35 440.2,210.8 441.1,212.54 442.2,214.2 442.74,216.54 443.6,217.6 444.38,223.72 444.9,227.8 446.1,235.4 446.84,238.75 447.8,242.4 448.48,245.6 449.2,249.2 450.12,247.47 451.2,244.9 451.76,243.23 452.9,239.7 453.4,239.72 454.6,242.2 455.04,243.43 455.86,242.57 456.3,243.1 457.5,242.27 458.0,241.4 459.14,243.08 459.7,243.1 460.78,240.48 461.4,238.8 462.42,238.35 463.1,238.0 464.06,239.12 464.7,239.7 465.9,238.0 466.52,240.22 467.3,243.1 468.4,242.4 468.98,246.43 469.8,251.9 471.0,262.0 471.44,264.81 472.4,270.5 473.08,265.83 473.7,262.0 474.9,251.9 475.54,251.71 476.6,250.2 477.18,252.03 478.3,253.6 478.82,253.6 480.0,251.0 480.46,250.01 481.28,248.74 481.7,247.6 482.92,246.78 483.4,245.8 484.56,243.35 485.1,241.5 486.2,238.27 486.8,236.3 487.84,232.27 488.5,230.3 489.48,227.13 490.2,225.3 491.4,232.9 491.94,230.25 492.7,227.8 493.58,225.37 494.4,222.7 495.22,216.85 496.1,210.8 496.86,208.49 497.5,206.1 498.6,210.8 499.32,216.79 499.8,221.0 500.8,227.8 502.0,232.9 502.6,234.02 503.2,235.4 504.6,231.2 505.06,230.16 505.9,228.6 506.7,230.93 507.1,232.9 507.52,232.35 508.34,232.13 508.8,231.2 510.0,235.4 510.8,237.98 511.4,239.7 512.2,242.5 513.1,241.4 514.08,243.19 514.7,243.2 515.72,245.24 516.4,246.6 517.36,243.85 518.1,242.4 519.0,243.25 519.8,241.7 520.64,243.3 521.5,244.9 522.28,243.82 523.2,241.5 523.92,240.47 524.9,240.5 525.56,242.31 526.6,245.3 527.2,244.97 528.3,244.5 528.84,241.27 530.0,234.6 530.48,232.67 531.3,230.56 531.7,229.5 532.12,227.98 532.94,227.85 533.4,226.9 534.58,227.85 535.1,227.8 536.4,232.0 537.04,227.82 537.6,224.4 538.68,223.18 539.3,222.7 540.32,220.7 541.0,218.5 542.2,227.8 542.78,229.28 543.6,232.0 544.42,227.27 545.24,222.82 545.9,219.3 546.88,216.92 547.6,215.6 548.52,216.93 549.3,218.5 550.16,220.95 551.0,222.7 551.8,228.48 552.2,231.2 552.62,232.09 553.6,234.6 554.26,233.05 555.3,229.5 555.9,230.57 556.6,231.2 557.8,239.7 558.6,242.5 559.5,243.9 560.3,244.2 561.2,246.4 562.0,243.4 562.46,243.24 562.9,243.9 563.7,246.8 564.6,243.9 565.4,247.6 566.3,247.3 567.1,249.3 568.2,251.2 568.8,251.9 569.84,254.12 570.5,255.3 571.48,258.61 572.2,261.2 573.12,264.46 573.6,266.3 574.76,261.07 575.3,258.6 576.4,250.2 577.3,247.3 578.1,247.6 578.86,249.5 579.8,251.9 580.5,250.59 581.5,247.9 582.14,247.78 583.2,248.7 583.78,247.44 584.9,247.6 585.42,248.5 586.6,251.0 587.06,248.99 587.5,246.4 588.3,247.6 588.7,246.47 589.2,244.7 590.0,244.2 590.8,243.9 591.7,246.8 592.5,241.4 593.4,241.7 594.2,238.0 595.6,241.4 596.08,242.11 597.0,242.8 597.72,244.27 598.7,245.3 599.36,244.78 600.4,247.5 601.0,249.58 601.9,252.7 602.64,254.0 603.6,256.1 604.28,257.63 605.3,260.3 605.92,258.57 606.9,256.1 607.56,256.94 608.6,257.8 609.2,256.4 610.3,254.4 610.84,254.03 612.0,252.7 612.48,253.74 613.3,253.59 613.7,251.9 614.12,254.01 614.94,252.92 615.4,252.7 616.58,250.61 617.1,249.3 618.0,246.4 618.8,246.8 619.7,243.9 620.5,243.4 621.4,240.5 622.32,239.41 623.1,238.0 623.96,237.26 624.7,237.1 625.6,239.1 626.4,239.7 627.24,239.12 628.1,238.8 628.88,236.58 629.8,234.6 630.52,234.56 631.5,237.1 632.16,238.03 632.9,239.7 634.1,234.6 634.62,234.11 635.8,232.9 636.26,232.33 637.08,234.28 637.5,233.7 638.72,232.56 639.2,232.0 640.36,230.43 640.8,229.5 642.0,229.51 642.5,228.6 643.64,230.37 644.2,231.2 645.28,233.73 645.9,235.4 647.1,233.7 647.74,237.96 648.5,242.4 649.38,239.75 650.2,238.0 651.0,240.8 651.9,239.7 652.66,240.6 653.6,240.3 654.3,237.7 655.12,236.02 655.9,233.1 656.76,232.59 657.6,234.0 658.4,232.9 659.3,231.4 660.04,230.05 661.0,229.7 661.68,227.59 662.7,224.7 663.32,223.59 664.4,220.4 664.96,221.1 665.6,221.3 666.6,212.8 667.8,218.7 668.24,219.64 669.0,221.3 669.88,223.96 670.3,225.5 670.7,224.38 671.52,224.69 672.0,223.8 673.16,223.94 673.7,223.0 674.8,218.27 675.4,215.3 676.8,223.0 677.26,223.89 678.0,226.4 678.9,228.49 679.7,230.6 680.54,231.1 681.4,231.4 682.18,230.93 683.1,231.4 683.82,233.29 684.7,235.7 685.46,237.55 686.4,239.9 687.1,238.63 688.1,240.8 688.74,240.59 689.8,239.1 690.38,238.29 691.5,236.5 692.02,236.27 693.2,237.4 693.66,236.96 694.48,236.91 694.9,236.5 696.12,237.88 696.6,238.2 697.76,238.27 698.3,237.4 699.4,238.41 700.0,239.9 701.04,242.26 701.7,243.3 702.5,245.8 703.5,242.99 704.2,241.6 705.14,241.13 705.9,242.5 706.78,238.37 707.3,235.7 708.42,236.41 709.0,236.5 710.06,235.39 710.7,235.7 711.7,234.31 712.4,233.1 713.34,230.4 714.1,228.9 714.98,230.03 715.8,230.6 716.62,232.68 717.5,232.3 718.26,234.24 719.2,235.7 719.9,234.65 720.8,233.1 721.54,233.34 722.5,232.3 723.18,230.38 724.2,228.1 724.82,230.56 725.4,233.1 726.46,231.82 727.1,233.1 728.1,231.56 728.8,229.7 729.74,231.72 730.5,233.1 731.38,233.66 732.2,234.8 733.02,236.57 733.9,238.2 734.66,239.4 735.6,240.8 736.3,240.14 737.3,239.1 737.94,238.2 739.0,239.9 739.58,239.15 740.7,238.2 741.22,238.08 742.4,237.4 742.86,234.21 743.6,228.9 744.5,228.19 745.3,228.1 746.14,229.26 746.9,230.6 747.78,231.12 748.6,229.7 749.42,228.37 750.3,227.2 751.06,227.41 752.0,228.1 752.7,227.99 753.7,229.7 754.34,230.18 755.4,229.7 755.98,231.01 757.1,231.4 757.62,231.17 758.8,230.6 759.26,232.68 760.08,236.13 760.5,238.2 761.9,235.7 762.54,237.17 763.2,237.4 764.4,231.4 765.4,238.7 765.82,240.1 766.8,243.8 767.46,245.28 768.1,247.2 769.1,245.18 769.8,243.8 770.74,243.31 771.5,243.0 772.38,241.86 773.2,242.1 774.02,241.26 774.9,243.0 775.66,244.48 776.6,246.4 777.3,245.88 778.3,247.2 778.94,247.18 780.0,244.7 780.58,244.77 781.7,243.8 782.22,243.29 783.04,244.93 783.7,244.7 784.68,244.31 785.4,245.5 786.32,245.56 787.5,246.4 787.96,245.09 788.78,245.99 789.7,245.5 790.42,244.77 791.4,246.4 792.06,248.01 792.5,249.7 793.9,251.4 794.52,251.97 795.6,250.6 796.16,251.55 797.3,252.3 797.8,253.14 799.0,254.8 799.44,255.1 800.26,255.46 800.7,256.5 801.9,255.36 802.4,256.5 803.54,254.28 804.4,254.8 805.18,252.26 806.1,249.7 806.82,248.54 807.8,246.4 808.46,244.6 809.5,242.1 810.1,243.17 810.8,244.7 811.74,245.31 812.5,246.4 813.38,247.6 814.2,248.1 815.02,250.47 815.6,251.4 816.66,251.52 817.3,252.3 818.5,258.2 819.12,261.46 819.7,265.0 821.0,257.4 821.58,253.07 822.4,247.2 823.6,242.1 824.04,244.74 824.7,248.9 825.68,253.77 826.1,255.7 827.5,260.8 828.14,258.62 828.6,256.5 829.8,248.9 830.6,244.84 831.2,242.1 832.5,237.0 833.06,235.56 833.7,234.5 834.7,234.64 835.4,236.2 836.6,242.1 837.16,240.06 838.0,237.0 838.8,234.81 839.7,232.8 840.44,232.48 841.4,231.1 842.08,227.53 842.7,224.3 843.9,231.9 844.54,232.22 845.6,232.8 846.18,232.07 847.3,231.1 847.82,230.35 849.0,228.6 849.46,229.92 850.28,230.41 850.7,231.1 851.92,232.8 852.4,231.9 853.6,234.5 854.6,223.5 855.2,221.39 855.8,219.2 856.84,216.74 857.5,214.2 858.48,216.36 859.2,216.7 860.3,220.1 860.94,217.84 861.5,215.0 862.7,212.5 863.8,216.7 864.22,213.18 864.8,208.2 865.7,214.2 866.8,222.6 868.3,220.1"/>
<text class="t" x="197.6" y="47" letter-spacing="0.18"><tspan class="l">2020</tspan>年<tspan class="l">7</tspan>月至今券商板块<tspan class="l" dx="9">VS</tspan><tspan dx="5.2">各大指数走势对比图</tspan></text>
<text class="ax" x="77.8" y="116.8" text-anchor="end" textLength="52.1" lengthAdjust="spacingAndGlyphs">96.00</text><text class="ax" x="77.8" y="116.8" textLength="15.6" lengthAdjust="spacingAndGlyphs">%</text>
<text class="ax" x="77.8" y="154.8" text-anchor="end" textLength="52.1" lengthAdjust="spacingAndGlyphs">76.00</text><text class="ax" x="77.8" y="154.8" textLength="15.6" lengthAdjust="spacingAndGlyphs">%</text>
<text class="ax" x="77.8" y="191.8" text-anchor="end" textLength="52.1" lengthAdjust="spacingAndGlyphs">56.00</text><text class="ax" x="77.8" y="191.8" textLength="15.6" lengthAdjust="spacingAndGlyphs">%</text>
<text class="ax" x="77.8" y="229.8" text-anchor="end" textLength="52.1" lengthAdjust="spacingAndGlyphs">36.00</text><text class="ax" x="77.8" y="229.8" textLength="15.6" lengthAdjust="spacingAndGlyphs">%</text>
<text class="ax" x="77.8" y="267.8" text-anchor="end" textLength="52.1" lengthAdjust="spacingAndGlyphs">16.00</text><text class="ax" x="77.8" y="267.8" textLength="15.6" lengthAdjust="spacingAndGlyphs">%</text>
<text class="ax" x="77.8" y="305.8" text-anchor="end" textLength="47.4" lengthAdjust="spacingAndGlyphs">-4.00</text><text class="ax" x="77.8" y="305.8" textLength="15.6" lengthAdjust="spacingAndGlyphs">%</text>
<text class="ax" x="77.8" y="343.8" text-anchor="end" textLength="59.2" lengthAdjust="spacingAndGlyphs">-24.00</text><text class="ax" x="77.8" y="343.8" textLength="15.6" lengthAdjust="spacingAndGlyphs">%</text>
<text class="ax" x="77.8" y="381.8" text-anchor="end" textLength="59.2" lengthAdjust="spacingAndGlyphs">-44.00</text><text class="ax" x="77.8" y="381.8" textLength="15.6" lengthAdjust="spacingAndGlyphs">%</text>
<text class="ax" x="115.5" y="412.1" text-anchor="middle" textLength="105.5" lengthAdjust="spacingAndGlyphs">2020-07-09</text>
<text class="ax" x="266.0" y="412.1" text-anchor="middle" textLength="105.5" lengthAdjust="spacingAndGlyphs">2021-04-12</text>
<text class="ax" x="416.5" y="412.1" text-anchor="middle" textLength="105.5" lengthAdjust="spacingAndGlyphs">2022-01-11</text>
<text class="ax" x="566.9" y="412.1" text-anchor="middle" textLength="105.5" lengthAdjust="spacingAndGlyphs">2022-10-19</text>
<text class="ax" x="717.4" y="412.1" text-anchor="middle" textLength="105.5" lengthAdjust="spacingAndGlyphs">2023-07-20</text>
<text class="ax" x="867.9" y="412.1" text-anchor="middle" textLength="105.5" lengthAdjust="spacingAndGlyphs">2024-04-24</text>
<line x1="154.5" y1="453.5" x2="194.4" y2="453.5" stroke="#00B050" stroke-width="3" stroke-linecap="round"/>
<text class="lg" x="197.8" y="462.2">证券公司指数</text>
<line x1="370.5" y1="453.5" x2="410.4" y2="453.5" stroke="#00B0F0" stroke-width="3" stroke-linecap="round"/>
<text class="lg" x="413.9" y="462.2">上证指数</text>
<line x1="587.9" y1="453.5" x2="627.8" y2="453.5" stroke="#2F5597" stroke-width="3" stroke-linecap="round"/>
<text class="lg" x="631.0" y="462.2">沪深<tspan class="l">300</tspan></text>
<line x1="154.5" y1="499.5" x2="194.4" y2="499.5" stroke="#DF5B59" stroke-width="3" stroke-linecap="round"/>
<text class="lg" x="197.8" y="508.2">创业板指</text>
<line x1="370.5" y1="499.5" x2="410.4" y2="499.5" stroke="#FF0000" stroke-width="3" stroke-linecap="round"/>
<text class="lg" x="413.9" y="508.2">煤炭(申万)</text>
<line x1="587.9" y1="499.5" x2="627.8" y2="499.5" stroke="#E3C350" stroke-width="3" stroke-linecap="round"/>
<text class="lg" x="631.0" y="508.2">石油石化(申万)</text>
</svg></body></html>
